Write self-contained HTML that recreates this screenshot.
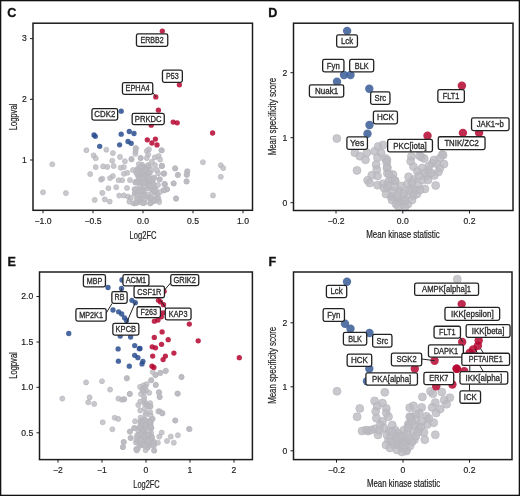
<!DOCTYPE html>
<html><head><meta charset="utf-8"><style>
html,body{margin:0;padding:0;background:#fff;}
svg{display:block;will-change:transform;font-family:"Liberation Sans", sans-serif;}
</style></head><body>
<svg width="520" height="496" viewBox="0 0 520 496">
<rect x="0" y="0" width="520" height="496" fill="#fff"/>
<rect x="0.65" y="0.65" width="518.7" height="494.7" fill="none" stroke="#111" stroke-width="1.3"/>
<text x="7.30" y="17.00" font-size="12.6" text-anchor="start" font-weight="bold" fill="#111" stroke="#111" stroke-width="0.3">C</text>
<circle cx="52.30" cy="164.30" r="2.55" fill="#bcbac1" fill-opacity="0.8" stroke="#b6b4bb" stroke-width="0.6"/>
<circle cx="43.00" cy="192.30" r="2.55" fill="#bcbac1" fill-opacity="0.8" stroke="#b6b4bb" stroke-width="0.6"/>
<circle cx="65.90" cy="193.10" r="2.55" fill="#bcbac1" fill-opacity="0.8" stroke="#b6b4bb" stroke-width="0.6"/>
<circle cx="86.40" cy="150.20" r="2.55" fill="#bcbac1" fill-opacity="0.8" stroke="#b6b4bb" stroke-width="0.6"/>
<circle cx="106.30" cy="149.70" r="2.55" fill="#bcbac1" fill-opacity="0.8" stroke="#b6b4bb" stroke-width="0.6"/>
<circle cx="112.90" cy="153.10" r="2.55" fill="#bcbac1" fill-opacity="0.8" stroke="#b6b4bb" stroke-width="0.6"/>
<circle cx="93.60" cy="155.40" r="2.55" fill="#bcbac1" fill-opacity="0.8" stroke="#b6b4bb" stroke-width="0.6"/>
<circle cx="95.70" cy="158.20" r="2.55" fill="#bcbac1" fill-opacity="0.8" stroke="#b6b4bb" stroke-width="0.6"/>
<circle cx="120.00" cy="156.90" r="2.55" fill="#bcbac1" fill-opacity="0.8" stroke="#b6b4bb" stroke-width="0.6"/>
<circle cx="136.10" cy="148.50" r="2.55" fill="#bcbac1" fill-opacity="0.8" stroke="#b6b4bb" stroke-width="0.6"/>
<circle cx="135.50" cy="151.60" r="2.55" fill="#bcbac1" fill-opacity="0.8" stroke="#b6b4bb" stroke-width="0.6"/>
<circle cx="140.80" cy="158.00" r="2.55" fill="#bcbac1" fill-opacity="0.8" stroke="#b6b4bb" stroke-width="0.6"/>
<circle cx="124.90" cy="161.20" r="2.55" fill="#bcbac1" fill-opacity="0.8" stroke="#b6b4bb" stroke-width="0.6"/>
<circle cx="131.50" cy="159.50" r="2.55" fill="#bcbac1" fill-opacity="0.8" stroke="#b6b4bb" stroke-width="0.6"/>
<circle cx="112.20" cy="160.70" r="2.55" fill="#bcbac1" fill-opacity="0.8" stroke="#b6b4bb" stroke-width="0.6"/>
<circle cx="95.70" cy="167.10" r="2.55" fill="#bcbac1" fill-opacity="0.8" stroke="#b6b4bb" stroke-width="0.6"/>
<circle cx="103.10" cy="166.40" r="2.55" fill="#bcbac1" fill-opacity="0.8" stroke="#b6b4bb" stroke-width="0.6"/>
<circle cx="107.30" cy="166.90" r="2.55" fill="#bcbac1" fill-opacity="0.8" stroke="#b6b4bb" stroke-width="0.6"/>
<circle cx="113.70" cy="166.00" r="2.55" fill="#bcbac1" fill-opacity="0.8" stroke="#b6b4bb" stroke-width="0.6"/>
<circle cx="120.70" cy="167.70" r="2.55" fill="#bcbac1" fill-opacity="0.8" stroke="#b6b4bb" stroke-width="0.6"/>
<circle cx="123.90" cy="167.10" r="2.55" fill="#bcbac1" fill-opacity="0.8" stroke="#b6b4bb" stroke-width="0.6"/>
<circle cx="90.20" cy="174.10" r="2.55" fill="#bcbac1" fill-opacity="0.8" stroke="#b6b4bb" stroke-width="0.6"/>
<circle cx="101.00" cy="179.60" r="2.55" fill="#bcbac1" fill-opacity="0.8" stroke="#b6b4bb" stroke-width="0.6"/>
<circle cx="102.30" cy="178.70" r="2.55" fill="#bcbac1" fill-opacity="0.8" stroke="#b6b4bb" stroke-width="0.6"/>
<circle cx="110.10" cy="178.10" r="2.55" fill="#bcbac1" fill-opacity="0.8" stroke="#b6b4bb" stroke-width="0.6"/>
<circle cx="112.90" cy="176.00" r="2.55" fill="#bcbac1" fill-opacity="0.8" stroke="#b6b4bb" stroke-width="0.6"/>
<circle cx="118.60" cy="180.20" r="2.55" fill="#bcbac1" fill-opacity="0.8" stroke="#b6b4bb" stroke-width="0.6"/>
<circle cx="122.20" cy="180.20" r="2.55" fill="#bcbac1" fill-opacity="0.8" stroke="#b6b4bb" stroke-width="0.6"/>
<circle cx="123.90" cy="173.80" r="2.55" fill="#bcbac1" fill-opacity="0.8" stroke="#b6b4bb" stroke-width="0.6"/>
<circle cx="127.40" cy="172.80" r="2.55" fill="#bcbac1" fill-opacity="0.8" stroke="#b6b4bb" stroke-width="0.6"/>
<circle cx="108.40" cy="188.20" r="2.55" fill="#bcbac1" fill-opacity="0.8" stroke="#b6b4bb" stroke-width="0.6"/>
<circle cx="116.20" cy="187.20" r="2.55" fill="#bcbac1" fill-opacity="0.8" stroke="#b6b4bb" stroke-width="0.6"/>
<circle cx="102.30" cy="192.90" r="2.55" fill="#bcbac1" fill-opacity="0.8" stroke="#b6b4bb" stroke-width="0.6"/>
<circle cx="94.70" cy="199.90" r="2.55" fill="#bcbac1" fill-opacity="0.8" stroke="#b6b4bb" stroke-width="0.6"/>
<circle cx="104.80" cy="199.40" r="2.55" fill="#bcbac1" fill-opacity="0.8" stroke="#b6b4bb" stroke-width="0.6"/>
<circle cx="109.70" cy="201.60" r="2.55" fill="#bcbac1" fill-opacity="0.8" stroke="#b6b4bb" stroke-width="0.6"/>
<circle cx="119.20" cy="195.60" r="2.55" fill="#bcbac1" fill-opacity="0.8" stroke="#b6b4bb" stroke-width="0.6"/>
<circle cx="123.90" cy="195.40" r="2.55" fill="#bcbac1" fill-opacity="0.8" stroke="#b6b4bb" stroke-width="0.6"/>
<circle cx="128.10" cy="196.70" r="2.55" fill="#bcbac1" fill-opacity="0.8" stroke="#b6b4bb" stroke-width="0.6"/>
<circle cx="161.30" cy="150.20" r="2.55" fill="#bcbac1" fill-opacity="0.8" stroke="#b6b4bb" stroke-width="0.6"/>
<circle cx="140.50" cy="158.10" r="2.55" fill="#bcbac1" fill-opacity="0.8" stroke="#b6b4bb" stroke-width="0.6"/>
<circle cx="135.60" cy="148.00" r="2.55" fill="#bcbac1" fill-opacity="0.8" stroke="#b6b4bb" stroke-width="0.6"/>
<circle cx="135.40" cy="153.80" r="2.55" fill="#bcbac1" fill-opacity="0.8" stroke="#b6b4bb" stroke-width="0.6"/>
<circle cx="146.80" cy="150.90" r="2.55" fill="#bcbac1" fill-opacity="0.8" stroke="#b6b4bb" stroke-width="0.6"/>
<circle cx="149.00" cy="149.40" r="2.55" fill="#bcbac1" fill-opacity="0.8" stroke="#b6b4bb" stroke-width="0.6"/>
<circle cx="148.20" cy="154.50" r="2.55" fill="#bcbac1" fill-opacity="0.8" stroke="#b6b4bb" stroke-width="0.6"/>
<circle cx="146.80" cy="158.10" r="2.55" fill="#bcbac1" fill-opacity="0.8" stroke="#b6b4bb" stroke-width="0.6"/>
<circle cx="154.80" cy="157.40" r="2.55" fill="#bcbac1" fill-opacity="0.8" stroke="#b6b4bb" stroke-width="0.6"/>
<circle cx="158.70" cy="156.00" r="2.55" fill="#bcbac1" fill-opacity="0.8" stroke="#b6b4bb" stroke-width="0.6"/>
<circle cx="160.10" cy="159.60" r="2.55" fill="#bcbac1" fill-opacity="0.8" stroke="#b6b4bb" stroke-width="0.6"/>
<circle cx="162.00" cy="166.10" r="2.55" fill="#bcbac1" fill-opacity="0.8" stroke="#b6b4bb" stroke-width="0.6"/>
<circle cx="151.80" cy="161.80" r="2.55" fill="#bcbac1" fill-opacity="0.8" stroke="#b6b4bb" stroke-width="0.6"/>
<circle cx="131.50" cy="158.90" r="2.55" fill="#bcbac1" fill-opacity="0.8" stroke="#b6b4bb" stroke-width="0.6"/>
<circle cx="175.00" cy="168.30" r="2.55" fill="#bcbac1" fill-opacity="0.8" stroke="#b6b4bb" stroke-width="0.6"/>
<circle cx="163.90" cy="173.70" r="2.55" fill="#bcbac1" fill-opacity="0.8" stroke="#b6b4bb" stroke-width="0.6"/>
<circle cx="178.00" cy="174.80" r="2.55" fill="#bcbac1" fill-opacity="0.8" stroke="#b6b4bb" stroke-width="0.6"/>
<circle cx="187.40" cy="171.20" r="2.55" fill="#bcbac1" fill-opacity="0.8" stroke="#b6b4bb" stroke-width="0.6"/>
<circle cx="187.10" cy="174.80" r="2.55" fill="#bcbac1" fill-opacity="0.8" stroke="#b6b4bb" stroke-width="0.6"/>
<circle cx="186.70" cy="181.40" r="2.55" fill="#bcbac1" fill-opacity="0.8" stroke="#b6b4bb" stroke-width="0.6"/>
<circle cx="173.60" cy="183.50" r="2.55" fill="#bcbac1" fill-opacity="0.8" stroke="#b6b4bb" stroke-width="0.6"/>
<circle cx="164.90" cy="184.30" r="2.55" fill="#bcbac1" fill-opacity="0.8" stroke="#b6b4bb" stroke-width="0.6"/>
<circle cx="159.80" cy="179.20" r="2.55" fill="#bcbac1" fill-opacity="0.8" stroke="#b6b4bb" stroke-width="0.6"/>
<circle cx="158.10" cy="173.40" r="2.55" fill="#bcbac1" fill-opacity="0.8" stroke="#b6b4bb" stroke-width="0.6"/>
<circle cx="154.00" cy="178.00" r="2.55" fill="#bcbac1" fill-opacity="0.8" stroke="#b6b4bb" stroke-width="0.6"/>
<circle cx="149.40" cy="178.00" r="2.55" fill="#bcbac1" fill-opacity="0.8" stroke="#b6b4bb" stroke-width="0.6"/>
<circle cx="167.10" cy="189.30" r="2.55" fill="#bcbac1" fill-opacity="0.8" stroke="#b6b4bb" stroke-width="0.6"/>
<circle cx="163.50" cy="190.00" r="2.55" fill="#bcbac1" fill-opacity="0.8" stroke="#b6b4bb" stroke-width="0.6"/>
<circle cx="176.10" cy="198.80" r="2.55" fill="#bcbac1" fill-opacity="0.8" stroke="#b6b4bb" stroke-width="0.6"/>
<circle cx="157.70" cy="195.90" r="2.55" fill="#bcbac1" fill-opacity="0.8" stroke="#b6b4bb" stroke-width="0.6"/>
<circle cx="156.20" cy="200.20" r="2.55" fill="#bcbac1" fill-opacity="0.8" stroke="#b6b4bb" stroke-width="0.6"/>
<circle cx="138.00" cy="202.40" r="2.55" fill="#bcbac1" fill-opacity="0.8" stroke="#b6b4bb" stroke-width="0.6"/>
<circle cx="130.80" cy="198.00" r="2.55" fill="#bcbac1" fill-opacity="0.8" stroke="#b6b4bb" stroke-width="0.6"/>
<circle cx="129.40" cy="201.70" r="2.55" fill="#bcbac1" fill-opacity="0.8" stroke="#b6b4bb" stroke-width="0.6"/>
<circle cx="202.90" cy="162.20" r="2.55" fill="#bcbac1" fill-opacity="0.8" stroke="#b6b4bb" stroke-width="0.6"/>
<circle cx="220.80" cy="165.20" r="2.55" fill="#bcbac1" fill-opacity="0.8" stroke="#b6b4bb" stroke-width="0.6"/>
<circle cx="223.20" cy="168.10" r="2.55" fill="#bcbac1" fill-opacity="0.8" stroke="#b6b4bb" stroke-width="0.6"/>
<circle cx="220.80" cy="176.80" r="2.55" fill="#bcbac1" fill-opacity="0.8" stroke="#b6b4bb" stroke-width="0.6"/>
<circle cx="213.00" cy="195.40" r="2.55" fill="#bcbac1" fill-opacity="0.8" stroke="#b6b4bb" stroke-width="0.6"/>
<circle cx="176.00" cy="198.30" r="2.55" fill="#bcbac1" fill-opacity="0.8" stroke="#b6b4bb" stroke-width="0.6"/>
<circle cx="175.30" cy="168.50" r="2.55" fill="#bcbac1" fill-opacity="0.8" stroke="#b6b4bb" stroke-width="0.6"/>
<circle cx="177.70" cy="175.10" r="2.55" fill="#bcbac1" fill-opacity="0.8" stroke="#b6b4bb" stroke-width="0.6"/>
<circle cx="187.10" cy="171.60" r="2.55" fill="#bcbac1" fill-opacity="0.8" stroke="#b6b4bb" stroke-width="0.6"/>
<circle cx="186.60" cy="174.70" r="2.55" fill="#bcbac1" fill-opacity="0.8" stroke="#b6b4bb" stroke-width="0.6"/>
<circle cx="186.40" cy="181.50" r="2.55" fill="#bcbac1" fill-opacity="0.8" stroke="#b6b4bb" stroke-width="0.6"/>
<circle cx="173.70" cy="183.40" r="2.55" fill="#bcbac1" fill-opacity="0.8" stroke="#b6b4bb" stroke-width="0.6"/>
<circle cx="161.90" cy="150.40" r="2.55" fill="#bcbac1" fill-opacity="0.8" stroke="#b6b4bb" stroke-width="0.6"/>
<circle cx="161.90" cy="165.70" r="2.55" fill="#bcbac1" fill-opacity="0.8" stroke="#b6b4bb" stroke-width="0.6"/>
<circle cx="164.20" cy="173.50" r="2.55" fill="#bcbac1" fill-opacity="0.8" stroke="#b6b4bb" stroke-width="0.6"/>
<circle cx="164.70" cy="184.10" r="2.55" fill="#bcbac1" fill-opacity="0.8" stroke="#b6b4bb" stroke-width="0.6"/>
<circle cx="167.00" cy="189.30" r="2.55" fill="#bcbac1" fill-opacity="0.8" stroke="#b6b4bb" stroke-width="0.6"/>
<circle cx="164.20" cy="190.50" r="2.55" fill="#bcbac1" fill-opacity="0.8" stroke="#b6b4bb" stroke-width="0.6"/>
<circle cx="137.70" cy="181.17" r="2.55" fill="#bcbac1" fill-opacity="0.8" stroke="#b6b4bb" stroke-width="0.6"/>
<circle cx="135.09" cy="192.99" r="2.55" fill="#bcbac1" fill-opacity="0.8" stroke="#b6b4bb" stroke-width="0.6"/>
<circle cx="141.92" cy="189.05" r="2.55" fill="#bcbac1" fill-opacity="0.8" stroke="#b6b4bb" stroke-width="0.6"/>
<circle cx="143.46" cy="168.73" r="2.55" fill="#bcbac1" fill-opacity="0.8" stroke="#b6b4bb" stroke-width="0.6"/>
<circle cx="142.37" cy="167.41" r="2.55" fill="#bcbac1" fill-opacity="0.8" stroke="#b6b4bb" stroke-width="0.6"/>
<circle cx="137.61" cy="169.44" r="2.55" fill="#bcbac1" fill-opacity="0.8" stroke="#b6b4bb" stroke-width="0.6"/>
<circle cx="151.25" cy="185.04" r="2.55" fill="#bcbac1" fill-opacity="0.8" stroke="#b6b4bb" stroke-width="0.6"/>
<circle cx="139.38" cy="172.35" r="2.55" fill="#bcbac1" fill-opacity="0.8" stroke="#b6b4bb" stroke-width="0.6"/>
<circle cx="155.54" cy="192.20" r="2.55" fill="#bcbac1" fill-opacity="0.8" stroke="#b6b4bb" stroke-width="0.6"/>
<circle cx="142.65" cy="190.48" r="2.55" fill="#bcbac1" fill-opacity="0.8" stroke="#b6b4bb" stroke-width="0.6"/>
<circle cx="133.38" cy="203.29" r="2.55" fill="#bcbac1" fill-opacity="0.8" stroke="#b6b4bb" stroke-width="0.6"/>
<circle cx="140.15" cy="199.67" r="2.55" fill="#bcbac1" fill-opacity="0.8" stroke="#b6b4bb" stroke-width="0.6"/>
<circle cx="137.68" cy="173.36" r="2.55" fill="#bcbac1" fill-opacity="0.8" stroke="#b6b4bb" stroke-width="0.6"/>
<circle cx="150.13" cy="180.56" r="2.55" fill="#bcbac1" fill-opacity="0.8" stroke="#b6b4bb" stroke-width="0.6"/>
<circle cx="145.17" cy="175.09" r="2.55" fill="#bcbac1" fill-opacity="0.8" stroke="#b6b4bb" stroke-width="0.6"/>
<circle cx="142.15" cy="192.59" r="2.55" fill="#bcbac1" fill-opacity="0.8" stroke="#b6b4bb" stroke-width="0.6"/>
<circle cx="135.21" cy="189.47" r="2.55" fill="#bcbac1" fill-opacity="0.8" stroke="#b6b4bb" stroke-width="0.6"/>
<circle cx="139.27" cy="168.83" r="2.55" fill="#bcbac1" fill-opacity="0.8" stroke="#b6b4bb" stroke-width="0.6"/>
<circle cx="143.51" cy="193.97" r="2.55" fill="#bcbac1" fill-opacity="0.8" stroke="#b6b4bb" stroke-width="0.6"/>
<circle cx="145.86" cy="180.78" r="2.55" fill="#bcbac1" fill-opacity="0.8" stroke="#b6b4bb" stroke-width="0.6"/>
<circle cx="140.48" cy="186.09" r="2.55" fill="#bcbac1" fill-opacity="0.8" stroke="#b6b4bb" stroke-width="0.6"/>
<circle cx="150.59" cy="197.66" r="2.55" fill="#bcbac1" fill-opacity="0.8" stroke="#b6b4bb" stroke-width="0.6"/>
<circle cx="145.35" cy="177.89" r="2.55" fill="#bcbac1" fill-opacity="0.8" stroke="#b6b4bb" stroke-width="0.6"/>
<circle cx="153.06" cy="188.68" r="2.55" fill="#bcbac1" fill-opacity="0.8" stroke="#b6b4bb" stroke-width="0.6"/>
<circle cx="140.15" cy="195.57" r="2.55" fill="#bcbac1" fill-opacity="0.8" stroke="#b6b4bb" stroke-width="0.6"/>
<circle cx="135.35" cy="203.40" r="2.55" fill="#bcbac1" fill-opacity="0.8" stroke="#b6b4bb" stroke-width="0.6"/>
<circle cx="149.78" cy="184.80" r="2.55" fill="#bcbac1" fill-opacity="0.8" stroke="#b6b4bb" stroke-width="0.6"/>
<circle cx="143.55" cy="173.74" r="2.55" fill="#bcbac1" fill-opacity="0.8" stroke="#b6b4bb" stroke-width="0.6"/>
<circle cx="145.52" cy="167.52" r="2.55" fill="#bcbac1" fill-opacity="0.8" stroke="#b6b4bb" stroke-width="0.6"/>
<circle cx="147.28" cy="196.71" r="2.55" fill="#bcbac1" fill-opacity="0.8" stroke="#b6b4bb" stroke-width="0.6"/>
<circle cx="140.78" cy="200.20" r="2.55" fill="#bcbac1" fill-opacity="0.8" stroke="#b6b4bb" stroke-width="0.6"/>
<circle cx="147.57" cy="194.46" r="2.55" fill="#bcbac1" fill-opacity="0.8" stroke="#b6b4bb" stroke-width="0.6"/>
<circle cx="144.00" cy="190.58" r="2.55" fill="#bcbac1" fill-opacity="0.8" stroke="#b6b4bb" stroke-width="0.6"/>
<circle cx="157.21" cy="199.10" r="2.55" fill="#bcbac1" fill-opacity="0.8" stroke="#b6b4bb" stroke-width="0.6"/>
<circle cx="148.18" cy="186.85" r="2.55" fill="#bcbac1" fill-opacity="0.8" stroke="#b6b4bb" stroke-width="0.6"/>
<circle cx="146.18" cy="168.89" r="2.55" fill="#bcbac1" fill-opacity="0.8" stroke="#b6b4bb" stroke-width="0.6"/>
<circle cx="156.77" cy="192.86" r="2.55" fill="#bcbac1" fill-opacity="0.8" stroke="#b6b4bb" stroke-width="0.6"/>
<circle cx="140.03" cy="198.53" r="2.55" fill="#bcbac1" fill-opacity="0.8" stroke="#b6b4bb" stroke-width="0.6"/>
<circle cx="147.81" cy="183.58" r="2.55" fill="#bcbac1" fill-opacity="0.8" stroke="#b6b4bb" stroke-width="0.6"/>
<circle cx="142.68" cy="166.33" r="2.55" fill="#bcbac1" fill-opacity="0.8" stroke="#b6b4bb" stroke-width="0.6"/>
<circle cx="137.58" cy="174.50" r="2.55" fill="#bcbac1" fill-opacity="0.8" stroke="#b6b4bb" stroke-width="0.6"/>
<circle cx="147.09" cy="168.79" r="2.55" fill="#bcbac1" fill-opacity="0.8" stroke="#b6b4bb" stroke-width="0.6"/>
<circle cx="139.75" cy="172.63" r="2.55" fill="#bcbac1" fill-opacity="0.8" stroke="#b6b4bb" stroke-width="0.6"/>
<circle cx="151.88" cy="183.78" r="2.55" fill="#bcbac1" fill-opacity="0.8" stroke="#b6b4bb" stroke-width="0.6"/>
<circle cx="142.72" cy="170.05" r="2.55" fill="#bcbac1" fill-opacity="0.8" stroke="#b6b4bb" stroke-width="0.6"/>
<circle cx="153.43" cy="189.53" r="2.55" fill="#bcbac1" fill-opacity="0.8" stroke="#b6b4bb" stroke-width="0.6"/>
<circle cx="154.97" cy="198.45" r="2.55" fill="#bcbac1" fill-opacity="0.8" stroke="#b6b4bb" stroke-width="0.6"/>
<circle cx="142.61" cy="179.33" r="2.55" fill="#bcbac1" fill-opacity="0.8" stroke="#b6b4bb" stroke-width="0.6"/>
<circle cx="151.85" cy="182.54" r="2.55" fill="#bcbac1" fill-opacity="0.8" stroke="#b6b4bb" stroke-width="0.6"/>
<circle cx="136.31" cy="202.73" r="2.55" fill="#bcbac1" fill-opacity="0.8" stroke="#b6b4bb" stroke-width="0.6"/>
<circle cx="139.43" cy="174.88" r="2.55" fill="#bcbac1" fill-opacity="0.8" stroke="#b6b4bb" stroke-width="0.6"/>
<circle cx="143.75" cy="177.43" r="2.55" fill="#bcbac1" fill-opacity="0.8" stroke="#b6b4bb" stroke-width="0.6"/>
<circle cx="139.62" cy="190.90" r="2.55" fill="#bcbac1" fill-opacity="0.8" stroke="#b6b4bb" stroke-width="0.6"/>
<circle cx="142.05" cy="164.65" r="2.55" fill="#bcbac1" fill-opacity="0.8" stroke="#b6b4bb" stroke-width="0.6"/>
<circle cx="145.72" cy="182.95" r="2.55" fill="#bcbac1" fill-opacity="0.8" stroke="#b6b4bb" stroke-width="0.6"/>
<circle cx="151.12" cy="202.58" r="2.55" fill="#bcbac1" fill-opacity="0.8" stroke="#b6b4bb" stroke-width="0.6"/>
<circle cx="147.38" cy="188.33" r="2.55" fill="#bcbac1" fill-opacity="0.8" stroke="#b6b4bb" stroke-width="0.6"/>
<circle cx="134.56" cy="193.83" r="2.55" fill="#bcbac1" fill-opacity="0.8" stroke="#b6b4bb" stroke-width="0.6"/>
<circle cx="153.27" cy="200.95" r="2.55" fill="#bcbac1" fill-opacity="0.8" stroke="#b6b4bb" stroke-width="0.6"/>
<circle cx="153.60" cy="200.17" r="2.55" fill="#bcbac1" fill-opacity="0.8" stroke="#b6b4bb" stroke-width="0.6"/>
<circle cx="142.47" cy="183.83" r="2.55" fill="#bcbac1" fill-opacity="0.8" stroke="#b6b4bb" stroke-width="0.6"/>
<circle cx="145.55" cy="171.30" r="2.55" fill="#bcbac1" fill-opacity="0.8" stroke="#b6b4bb" stroke-width="0.6"/>
<circle cx="137.32" cy="168.98" r="2.55" fill="#bcbac1" fill-opacity="0.8" stroke="#b6b4bb" stroke-width="0.6"/>
<circle cx="138.21" cy="176.35" r="2.55" fill="#bcbac1" fill-opacity="0.8" stroke="#b6b4bb" stroke-width="0.6"/>
<circle cx="135.78" cy="181.81" r="2.55" fill="#bcbac1" fill-opacity="0.8" stroke="#b6b4bb" stroke-width="0.6"/>
<circle cx="138.81" cy="164.08" r="2.55" fill="#bcbac1" fill-opacity="0.8" stroke="#b6b4bb" stroke-width="0.6"/>
<circle cx="141.51" cy="171.19" r="2.55" fill="#bcbac1" fill-opacity="0.8" stroke="#b6b4bb" stroke-width="0.6"/>
<circle cx="148.07" cy="166.55" r="2.55" fill="#bcbac1" fill-opacity="0.8" stroke="#b6b4bb" stroke-width="0.6"/>
<circle cx="136.96" cy="191.75" r="2.55" fill="#bcbac1" fill-opacity="0.8" stroke="#b6b4bb" stroke-width="0.6"/>
<circle cx="141.37" cy="178.24" r="2.55" fill="#bcbac1" fill-opacity="0.8" stroke="#b6b4bb" stroke-width="0.6"/>
<circle cx="137.05" cy="182.75" r="2.55" fill="#bcbac1" fill-opacity="0.8" stroke="#b6b4bb" stroke-width="0.6"/>
<circle cx="158.55" cy="199.38" r="2.55" fill="#bcbac1" fill-opacity="0.8" stroke="#b6b4bb" stroke-width="0.6"/>
<circle cx="144.35" cy="186.56" r="2.55" fill="#bcbac1" fill-opacity="0.8" stroke="#b6b4bb" stroke-width="0.6"/>
<circle cx="137.69" cy="170.35" r="2.55" fill="#bcbac1" fill-opacity="0.8" stroke="#b6b4bb" stroke-width="0.6"/>
<circle cx="139.83" cy="181.91" r="2.55" fill="#bcbac1" fill-opacity="0.8" stroke="#b6b4bb" stroke-width="0.6"/>
<circle cx="136.84" cy="198.75" r="2.55" fill="#bcbac1" fill-opacity="0.8" stroke="#b6b4bb" stroke-width="0.6"/>
<circle cx="149.02" cy="166.37" r="2.55" fill="#bcbac1" fill-opacity="0.8" stroke="#b6b4bb" stroke-width="0.6"/>
<circle cx="137.11" cy="188.79" r="2.55" fill="#bcbac1" fill-opacity="0.8" stroke="#b6b4bb" stroke-width="0.6"/>
<circle cx="134.43" cy="189.31" r="2.55" fill="#bcbac1" fill-opacity="0.8" stroke="#b6b4bb" stroke-width="0.6"/>
<circle cx="155.34" cy="188.78" r="2.55" fill="#bcbac1" fill-opacity="0.8" stroke="#b6b4bb" stroke-width="0.6"/>
<circle cx="150.85" cy="199.83" r="2.55" fill="#bcbac1" fill-opacity="0.8" stroke="#b6b4bb" stroke-width="0.6"/>
<circle cx="141.72" cy="178.61" r="2.55" fill="#bcbac1" fill-opacity="0.8" stroke="#b6b4bb" stroke-width="0.6"/>
<circle cx="148.18" cy="174.45" r="2.55" fill="#bcbac1" fill-opacity="0.8" stroke="#b6b4bb" stroke-width="0.6"/>
<circle cx="151.00" cy="188.94" r="2.55" fill="#bcbac1" fill-opacity="0.8" stroke="#b6b4bb" stroke-width="0.6"/>
<circle cx="139.05" cy="181.40" r="2.55" fill="#bcbac1" fill-opacity="0.8" stroke="#b6b4bb" stroke-width="0.6"/>
<circle cx="158.02" cy="198.20" r="2.55" fill="#bcbac1" fill-opacity="0.8" stroke="#b6b4bb" stroke-width="0.6"/>
<circle cx="153.68" cy="199.49" r="2.55" fill="#bcbac1" fill-opacity="0.8" stroke="#b6b4bb" stroke-width="0.6"/>
<circle cx="151.76" cy="198.42" r="2.55" fill="#bcbac1" fill-opacity="0.8" stroke="#b6b4bb" stroke-width="0.6"/>
<circle cx="144.29" cy="177.14" r="2.55" fill="#bcbac1" fill-opacity="0.8" stroke="#b6b4bb" stroke-width="0.6"/>
<circle cx="135.26" cy="182.42" r="2.55" fill="#bcbac1" fill-opacity="0.8" stroke="#b6b4bb" stroke-width="0.6"/>
<circle cx="140.32" cy="166.73" r="2.55" fill="#bcbac1" fill-opacity="0.8" stroke="#b6b4bb" stroke-width="0.6"/>
<circle cx="147.52" cy="178.53" r="2.55" fill="#bcbac1" fill-opacity="0.8" stroke="#b6b4bb" stroke-width="0.6"/>
<circle cx="144.45" cy="202.69" r="2.55" fill="#bcbac1" fill-opacity="0.8" stroke="#b6b4bb" stroke-width="0.6"/>
<circle cx="159.15" cy="202.10" r="2.55" fill="#bcbac1" fill-opacity="0.8" stroke="#b6b4bb" stroke-width="0.6"/>
<circle cx="142.18" cy="202.64" r="2.55" fill="#bcbac1" fill-opacity="0.8" stroke="#b6b4bb" stroke-width="0.6"/>
<circle cx="139.28" cy="176.87" r="2.55" fill="#bcbac1" fill-opacity="0.8" stroke="#b6b4bb" stroke-width="0.6"/>
<circle cx="138.94" cy="175.81" r="2.55" fill="#bcbac1" fill-opacity="0.8" stroke="#b6b4bb" stroke-width="0.6"/>
<circle cx="154.41" cy="192.09" r="2.55" fill="#bcbac1" fill-opacity="0.8" stroke="#b6b4bb" stroke-width="0.6"/>
<circle cx="145.10" cy="199.11" r="2.55" fill="#bcbac1" fill-opacity="0.8" stroke="#b6b4bb" stroke-width="0.6"/>
<circle cx="152.26" cy="193.06" r="2.55" fill="#bcbac1" fill-opacity="0.8" stroke="#b6b4bb" stroke-width="0.6"/>
<circle cx="145.80" cy="170.28" r="2.55" fill="#bcbac1" fill-opacity="0.8" stroke="#b6b4bb" stroke-width="0.6"/>
<circle cx="153.39" cy="201.26" r="2.55" fill="#bcbac1" fill-opacity="0.8" stroke="#b6b4bb" stroke-width="0.6"/>
<circle cx="144.87" cy="196.24" r="2.55" fill="#bcbac1" fill-opacity="0.8" stroke="#b6b4bb" stroke-width="0.6"/>
<circle cx="148.56" cy="174.99" r="2.55" fill="#bcbac1" fill-opacity="0.8" stroke="#b6b4bb" stroke-width="0.6"/>
<circle cx="150.03" cy="181.52" r="2.55" fill="#bcbac1" fill-opacity="0.8" stroke="#b6b4bb" stroke-width="0.6"/>
<circle cx="143.06" cy="203.15" r="2.55" fill="#bcbac1" fill-opacity="0.8" stroke="#b6b4bb" stroke-width="0.6"/>
<circle cx="153.48" cy="184.17" r="2.55" fill="#bcbac1" fill-opacity="0.8" stroke="#b6b4bb" stroke-width="0.6"/>
<circle cx="137.25" cy="195.42" r="2.55" fill="#bcbac1" fill-opacity="0.8" stroke="#b6b4bb" stroke-width="0.6"/>
<circle cx="138.26" cy="172.51" r="2.55" fill="#bcbac1" fill-opacity="0.8" stroke="#b6b4bb" stroke-width="0.6"/>
<circle cx="154.01" cy="201.11" r="2.55" fill="#bcbac1" fill-opacity="0.8" stroke="#b6b4bb" stroke-width="0.6"/>
<circle cx="148.86" cy="173.46" r="2.55" fill="#bcbac1" fill-opacity="0.8" stroke="#b6b4bb" stroke-width="0.6"/>
<circle cx="150.32" cy="203.41" r="2.55" fill="#bcbac1" fill-opacity="0.8" stroke="#b6b4bb" stroke-width="0.6"/>
<circle cx="145.30" cy="182.22" r="2.55" fill="#bcbac1" fill-opacity="0.8" stroke="#b6b4bb" stroke-width="0.6"/>
<circle cx="136.13" cy="172.71" r="2.55" fill="#bcbac1" fill-opacity="0.8" stroke="#b6b4bb" stroke-width="0.6"/>
<circle cx="150.07" cy="203.12" r="2.55" fill="#bcbac1" fill-opacity="0.8" stroke="#b6b4bb" stroke-width="0.6"/>
<circle cx="154.35" cy="188.73" r="2.55" fill="#bcbac1" fill-opacity="0.8" stroke="#b6b4bb" stroke-width="0.6"/>
<circle cx="152.24" cy="185.38" r="2.55" fill="#bcbac1" fill-opacity="0.8" stroke="#b6b4bb" stroke-width="0.6"/>
<circle cx="138.13" cy="198.66" r="2.55" fill="#bcbac1" fill-opacity="0.8" stroke="#b6b4bb" stroke-width="0.6"/>
<circle cx="140.40" cy="178.22" r="2.55" fill="#bcbac1" fill-opacity="0.8" stroke="#b6b4bb" stroke-width="0.6"/>
<circle cx="145.54" cy="177.74" r="2.55" fill="#bcbac1" fill-opacity="0.8" stroke="#b6b4bb" stroke-width="0.6"/>
<circle cx="142.65" cy="178.54" r="2.55" fill="#bcbac1" fill-opacity="0.8" stroke="#b6b4bb" stroke-width="0.6"/>
<circle cx="150.00" cy="172.71" r="2.55" fill="#bcbac1" fill-opacity="0.8" stroke="#b6b4bb" stroke-width="0.6"/>
<circle cx="143.57" cy="182.35" r="2.55" fill="#bcbac1" fill-opacity="0.8" stroke="#b6b4bb" stroke-width="0.6"/>
<circle cx="154.17" cy="190.70" r="2.55" fill="#bcbac1" fill-opacity="0.8" stroke="#b6b4bb" stroke-width="0.6"/>
<circle cx="153.07" cy="184.89" r="2.55" fill="#bcbac1" fill-opacity="0.8" stroke="#b6b4bb" stroke-width="0.6"/>
<circle cx="155.00" cy="165.00" r="2.55" fill="#bcbac1" fill-opacity="0.8" stroke="#b6b4bb" stroke-width="0.6"/>
<circle cx="152.00" cy="170.00" r="2.55" fill="#bcbac1" fill-opacity="0.8" stroke="#b6b4bb" stroke-width="0.6"/>
<circle cx="158.00" cy="185.00" r="2.55" fill="#bcbac1" fill-opacity="0.8" stroke="#b6b4bb" stroke-width="0.6"/>
<circle cx="155.00" cy="190.00" r="2.55" fill="#bcbac1" fill-opacity="0.8" stroke="#b6b4bb" stroke-width="0.6"/>
<circle cx="150.00" cy="186.00" r="2.55" fill="#bcbac1" fill-opacity="0.8" stroke="#b6b4bb" stroke-width="0.6"/>
<circle cx="160.00" cy="192.00" r="2.55" fill="#bcbac1" fill-opacity="0.8" stroke="#b6b4bb" stroke-width="0.6"/>
<circle cx="148.00" cy="165.00" r="2.55" fill="#bcbac1" fill-opacity="0.8" stroke="#b6b4bb" stroke-width="0.6"/>
<circle cx="153.00" cy="180.00" r="2.55" fill="#bcbac1" fill-opacity="0.8" stroke="#b6b4bb" stroke-width="0.6"/>
<circle cx="157.00" cy="170.00" r="2.55" fill="#bcbac1" fill-opacity="0.8" stroke="#b6b4bb" stroke-width="0.6"/>
<circle cx="133.00" cy="170.00" r="2.55" fill="#bcbac1" fill-opacity="0.8" stroke="#b6b4bb" stroke-width="0.6"/>
<circle cx="130.00" cy="180.00" r="2.55" fill="#bcbac1" fill-opacity="0.8" stroke="#b6b4bb" stroke-width="0.6"/>
<circle cx="127.00" cy="188.00" r="2.55" fill="#bcbac1" fill-opacity="0.8" stroke="#b6b4bb" stroke-width="0.6"/>
<circle cx="149.00" cy="177.70" r="2.55" fill="#bcbac1" fill-opacity="0.8" stroke="#b6b4bb" stroke-width="0.6"/>
<circle cx="154.00" cy="177.70" r="2.55" fill="#bcbac1" fill-opacity="0.8" stroke="#b6b4bb" stroke-width="0.6"/>
<circle cx="161.80" cy="165.90" r="2.55" fill="#bcbac1" fill-opacity="0.8" stroke="#b6b4bb" stroke-width="0.6"/>
<circle cx="163.60" cy="173.60" r="2.55" fill="#bcbac1" fill-opacity="0.8" stroke="#b6b4bb" stroke-width="0.6"/>
<circle cx="159.50" cy="179.50" r="2.55" fill="#bcbac1" fill-opacity="0.8" stroke="#b6b4bb" stroke-width="0.6"/>
<circle cx="164.50" cy="184.00" r="2.55" fill="#bcbac1" fill-opacity="0.8" stroke="#b6b4bb" stroke-width="0.6"/>
<circle cx="121.20" cy="111.20" r="2.65" fill="#2a4d8f" fill-opacity="0.85"/>
<circle cx="94.00" cy="135.00" r="2.65" fill="#2a4d8f" fill-opacity="0.85"/>
<circle cx="95.30" cy="136.30" r="2.65" fill="#2a4d8f" fill-opacity="0.85"/>
<circle cx="121.20" cy="134.20" r="2.65" fill="#2a4d8f" fill-opacity="0.85"/>
<circle cx="129.30" cy="131.50" r="2.65" fill="#2a4d8f" fill-opacity="0.85"/>
<circle cx="134.00" cy="133.50" r="2.65" fill="#2a4d8f" fill-opacity="0.85"/>
<circle cx="99.70" cy="146.30" r="2.65" fill="#2a4d8f" fill-opacity="0.85"/>
<circle cx="119.60" cy="144.80" r="2.65" fill="#2a4d8f" fill-opacity="0.85"/>
<circle cx="128.00" cy="141.50" r="2.65" fill="#2a4d8f" fill-opacity="0.85"/>
<circle cx="131.20" cy="143.30" r="2.65" fill="#2a4d8f" fill-opacity="0.85"/>
<circle cx="162.30" cy="31.10" r="2.65" fill="#b5052f" fill-opacity="0.85"/>
<circle cx="179.40" cy="84.80" r="2.65" fill="#b5052f" fill-opacity="0.85"/>
<circle cx="155.80" cy="96.90" r="2.65" fill="#b5052f" fill-opacity="0.85"/>
<circle cx="158.40" cy="110.20" r="2.65" fill="#b5052f" fill-opacity="0.85"/>
<circle cx="151.20" cy="125.20" r="2.65" fill="#b5052f" fill-opacity="0.85"/>
<circle cx="173.20" cy="122.10" r="2.65" fill="#b5052f" fill-opacity="0.85"/>
<circle cx="177.20" cy="122.80" r="2.65" fill="#b5052f" fill-opacity="0.85"/>
<circle cx="212.60" cy="133.00" r="2.65" fill="#b5052f" fill-opacity="0.85"/>
<circle cx="147.30" cy="139.80" r="2.65" fill="#b5052f" fill-opacity="0.85"/>
<circle cx="155.40" cy="139.10" r="2.65" fill="#b5052f" fill-opacity="0.85"/>
<circle cx="151.90" cy="143.00" r="2.65" fill="#b5052f" fill-opacity="0.85"/>
<circle cx="157.00" cy="144.90" r="2.65" fill="#b5052f" fill-opacity="0.85"/>
<rect x="33.00" y="23.20" width="219.50" height="187.10" fill="none" stroke="#1c1c1c" stroke-width="1.5"/>
<line x1="30.00" y1="38.60" x2="33.00" y2="38.60" stroke="#1c1c1c" stroke-width="1"/>
<text x="26.80" y="41.45" font-size="8.6" text-anchor="end" font-weight="normal" fill="#222" stroke="#222" stroke-width="0.18">3</text>
<line x1="30.00" y1="99.30" x2="33.00" y2="99.30" stroke="#1c1c1c" stroke-width="1"/>
<text x="26.80" y="102.15" font-size="8.6" text-anchor="end" font-weight="normal" fill="#222" stroke="#222" stroke-width="0.18">2</text>
<line x1="30.00" y1="160.00" x2="33.00" y2="160.00" stroke="#1c1c1c" stroke-width="1"/>
<text x="26.80" y="162.85" font-size="8.6" text-anchor="end" font-weight="normal" fill="#222" stroke="#222" stroke-width="0.18">1</text>
<line x1="43.00" y1="210.30" x2="43.00" y2="213.30" stroke="#1c1c1c" stroke-width="1"/>
<text x="43.00" y="223.70" font-size="8.6" text-anchor="middle" font-weight="normal" fill="#222" stroke="#222" stroke-width="0.18">−1.0</text>
<line x1="93.00" y1="210.30" x2="93.00" y2="213.30" stroke="#1c1c1c" stroke-width="1"/>
<text x="93.00" y="223.70" font-size="8.6" text-anchor="middle" font-weight="normal" fill="#222" stroke="#222" stroke-width="0.18">−0.5</text>
<line x1="143.00" y1="210.30" x2="143.00" y2="213.30" stroke="#1c1c1c" stroke-width="1"/>
<text x="143.00" y="223.70" font-size="8.6" text-anchor="middle" font-weight="normal" fill="#222" stroke="#222" stroke-width="0.18">0.0</text>
<line x1="193.00" y1="210.30" x2="193.00" y2="213.30" stroke="#1c1c1c" stroke-width="1"/>
<text x="193.00" y="223.70" font-size="8.6" text-anchor="middle" font-weight="normal" fill="#222" stroke="#222" stroke-width="0.18">0.5</text>
<line x1="243.00" y1="210.30" x2="243.00" y2="213.30" stroke="#1c1c1c" stroke-width="1"/>
<text x="243.00" y="223.70" font-size="8.6" text-anchor="middle" font-weight="normal" fill="#222" stroke="#222" stroke-width="0.18">1.0</text>
<text x="143.00" y="238.50" font-size="10" text-anchor="middle" font-weight="normal" fill="#222" textLength="27.00" lengthAdjust="spacingAndGlyphs" stroke="#222" stroke-width="0.2">Log2FC</text>
<text x="16.50" y="117.00" font-size="10" text-anchor="middle" font-weight="normal" fill="#222" textLength="26.60" lengthAdjust="spacingAndGlyphs" transform="rotate(-90 16.50 117.00)" stroke="#222" stroke-width="0.2">Logpval</text>
<line x1="153.00" y1="92.70" x2="155.80" y2="96.90" stroke="#222" stroke-width="1.0"/>
<rect x="136.45" y="33.85" width="31.30" height="12.50" rx="1.8" fill="#fff" stroke="#222" stroke-width="1.3"/>
<text x="140.40" y="43.05" font-size="8.2" text-anchor="start" font-weight="normal" fill="#2a2a2a" textLength="23.40" lengthAdjust="spacingAndGlyphs" stroke="#2a2a2a" stroke-width="0.3">ERBB2</text>
<rect x="162.45" y="70.15" width="19.90" height="12.20" rx="1.8" fill="#fff" stroke="#222" stroke-width="1.3"/>
<text x="166.05" y="79.20" font-size="8.2" text-anchor="start" font-weight="normal" fill="#2a2a2a" textLength="12.69" lengthAdjust="spacingAndGlyphs" stroke="#2a2a2a" stroke-width="0.3">P53</text>
<rect x="122.45" y="82.65" width="30.30" height="11.70" rx="1.8" fill="#fff" stroke="#222" stroke-width="1.3"/>
<text x="125.52" y="91.45" font-size="8.2" text-anchor="start" font-weight="normal" fill="#2a2a2a" textLength="24.16" lengthAdjust="spacingAndGlyphs" stroke="#2a2a2a" stroke-width="0.3">EPHA4</text>
<rect x="91.95" y="108.65" width="25.70" height="11.40" rx="1.8" fill="#fff" stroke="#222" stroke-width="1.3"/>
<text x="94.35" y="117.30" font-size="8.2" text-anchor="start" font-weight="normal" fill="#2a2a2a" textLength="20.90" lengthAdjust="spacingAndGlyphs" stroke="#2a2a2a" stroke-width="0.3">CDK2</text>
<rect x="132.15" y="113.35" width="32.10" height="11.30" rx="1.8" fill="#fff" stroke="#222" stroke-width="1.3"/>
<text x="134.78" y="121.95" font-size="8.2" text-anchor="start" font-weight="normal" fill="#2a2a2a" textLength="26.84" lengthAdjust="spacingAndGlyphs" stroke="#2a2a2a" stroke-width="0.3">PRKDC</text>
<text x="268.20" y="17.00" font-size="12.6" text-anchor="start" font-weight="bold" fill="#111" stroke="#111" stroke-width="0.3">D</text>
<circle cx="336.80" cy="138.50" r="4" fill="#bcbac1" fill-opacity="0.8" stroke="#b6b4bb" stroke-width="0.6"/>
<circle cx="357.00" cy="170.40" r="4" fill="#bcbac1" fill-opacity="0.8" stroke="#b6b4bb" stroke-width="0.6"/>
<circle cx="435.70" cy="185.50" r="4" fill="#bcbac1" fill-opacity="0.8" stroke="#b6b4bb" stroke-width="0.6"/>
<circle cx="442.20" cy="154.70" r="4" fill="#bcbac1" fill-opacity="0.8" stroke="#b6b4bb" stroke-width="0.6"/>
<circle cx="354.90" cy="152.70" r="4" fill="#bcbac1" fill-opacity="0.8" stroke="#b6b4bb" stroke-width="0.6"/>
<circle cx="359.80" cy="156.20" r="4" fill="#bcbac1" fill-opacity="0.8" stroke="#b6b4bb" stroke-width="0.6"/>
<circle cx="365.50" cy="159.80" r="4" fill="#bcbac1" fill-opacity="0.8" stroke="#b6b4bb" stroke-width="0.6"/>
<circle cx="366.90" cy="152.70" r="4" fill="#bcbac1" fill-opacity="0.8" stroke="#b6b4bb" stroke-width="0.6"/>
<circle cx="374.70" cy="151.30" r="4" fill="#bcbac1" fill-opacity="0.8" stroke="#b6b4bb" stroke-width="0.6"/>
<circle cx="378.20" cy="146.40" r="4" fill="#bcbac1" fill-opacity="0.8" stroke="#b6b4bb" stroke-width="0.6"/>
<circle cx="383.10" cy="144.90" r="4" fill="#bcbac1" fill-opacity="0.8" stroke="#b6b4bb" stroke-width="0.6"/>
<circle cx="381.00" cy="152.70" r="4" fill="#bcbac1" fill-opacity="0.8" stroke="#b6b4bb" stroke-width="0.6"/>
<circle cx="377.50" cy="157.70" r="4" fill="#bcbac1" fill-opacity="0.8" stroke="#b6b4bb" stroke-width="0.6"/>
<circle cx="385.30" cy="158.40" r="4" fill="#bcbac1" fill-opacity="0.8" stroke="#b6b4bb" stroke-width="0.6"/>
<circle cx="386.70" cy="162.60" r="4" fill="#bcbac1" fill-opacity="0.8" stroke="#b6b4bb" stroke-width="0.6"/>
<circle cx="376.10" cy="164.70" r="4" fill="#bcbac1" fill-opacity="0.8" stroke="#b6b4bb" stroke-width="0.6"/>
<circle cx="376.80" cy="169.70" r="4" fill="#bcbac1" fill-opacity="0.8" stroke="#b6b4bb" stroke-width="0.6"/>
<circle cx="387.40" cy="167.50" r="4" fill="#bcbac1" fill-opacity="0.8" stroke="#b6b4bb" stroke-width="0.6"/>
<circle cx="387.40" cy="173.20" r="4" fill="#bcbac1" fill-opacity="0.8" stroke="#b6b4bb" stroke-width="0.6"/>
<circle cx="393.00" cy="174.60" r="4" fill="#bcbac1" fill-opacity="0.8" stroke="#b6b4bb" stroke-width="0.6"/>
<circle cx="371.80" cy="175.30" r="4" fill="#bcbac1" fill-opacity="0.8" stroke="#b6b4bb" stroke-width="0.6"/>
<circle cx="377.50" cy="176.00" r="4" fill="#bcbac1" fill-opacity="0.8" stroke="#b6b4bb" stroke-width="0.6"/>
<circle cx="367.60" cy="180.30" r="4" fill="#bcbac1" fill-opacity="0.8" stroke="#b6b4bb" stroke-width="0.6"/>
<circle cx="369.70" cy="183.10" r="4" fill="#bcbac1" fill-opacity="0.8" stroke="#b6b4bb" stroke-width="0.6"/>
<circle cx="377.50" cy="185.20" r="4" fill="#bcbac1" fill-opacity="0.8" stroke="#b6b4bb" stroke-width="0.6"/>
<circle cx="383.10" cy="183.80" r="4" fill="#bcbac1" fill-opacity="0.8" stroke="#b6b4bb" stroke-width="0.6"/>
<circle cx="388.80" cy="181.00" r="4" fill="#bcbac1" fill-opacity="0.8" stroke="#b6b4bb" stroke-width="0.6"/>
<circle cx="395.10" cy="181.00" r="4" fill="#bcbac1" fill-opacity="0.8" stroke="#b6b4bb" stroke-width="0.6"/>
<circle cx="387.40" cy="188.00" r="4" fill="#bcbac1" fill-opacity="0.8" stroke="#b6b4bb" stroke-width="0.6"/>
<circle cx="391.60" cy="196.50" r="4" fill="#bcbac1" fill-opacity="0.8" stroke="#b6b4bb" stroke-width="0.6"/>
<circle cx="411.40" cy="156.50" r="4" fill="#bcbac1" fill-opacity="0.8" stroke="#b6b4bb" stroke-width="0.6"/>
<circle cx="410.70" cy="161.20" r="4" fill="#bcbac1" fill-opacity="0.8" stroke="#b6b4bb" stroke-width="0.6"/>
<circle cx="421.50" cy="157.20" r="4" fill="#bcbac1" fill-opacity="0.8" stroke="#b6b4bb" stroke-width="0.6"/>
<circle cx="424.20" cy="158.50" r="4" fill="#bcbac1" fill-opacity="0.8" stroke="#b6b4bb" stroke-width="0.6"/>
<circle cx="419.50" cy="155.80" r="4" fill="#bcbac1" fill-opacity="0.8" stroke="#b6b4bb" stroke-width="0.6"/>
<circle cx="443.10" cy="155.10" r="4" fill="#bcbac1" fill-opacity="0.8" stroke="#b6b4bb" stroke-width="0.6"/>
<circle cx="439.70" cy="158.50" r="4" fill="#bcbac1" fill-opacity="0.8" stroke="#b6b4bb" stroke-width="0.6"/>
<circle cx="432.30" cy="163.20" r="4" fill="#bcbac1" fill-opacity="0.8" stroke="#b6b4bb" stroke-width="0.6"/>
<circle cx="437.00" cy="163.90" r="4" fill="#bcbac1" fill-opacity="0.8" stroke="#b6b4bb" stroke-width="0.6"/>
<circle cx="438.40" cy="172.00" r="4" fill="#bcbac1" fill-opacity="0.8" stroke="#b6b4bb" stroke-width="0.6"/>
<circle cx="434.30" cy="175.40" r="4" fill="#bcbac1" fill-opacity="0.8" stroke="#b6b4bb" stroke-width="0.6"/>
<circle cx="428.20" cy="170.00" r="4" fill="#bcbac1" fill-opacity="0.8" stroke="#b6b4bb" stroke-width="0.6"/>
<circle cx="426.90" cy="176.10" r="4" fill="#bcbac1" fill-opacity="0.8" stroke="#b6b4bb" stroke-width="0.6"/>
<circle cx="413.40" cy="166.60" r="4" fill="#bcbac1" fill-opacity="0.8" stroke="#b6b4bb" stroke-width="0.6"/>
<circle cx="417.40" cy="171.40" r="4" fill="#bcbac1" fill-opacity="0.8" stroke="#b6b4bb" stroke-width="0.6"/>
<circle cx="422.20" cy="168.00" r="4" fill="#bcbac1" fill-opacity="0.8" stroke="#b6b4bb" stroke-width="0.6"/>
<circle cx="408.60" cy="176.80" r="4" fill="#bcbac1" fill-opacity="0.8" stroke="#b6b4bb" stroke-width="0.6"/>
<circle cx="414.10" cy="179.50" r="4" fill="#bcbac1" fill-opacity="0.8" stroke="#b6b4bb" stroke-width="0.6"/>
<circle cx="422.20" cy="180.10" r="4" fill="#bcbac1" fill-opacity="0.8" stroke="#b6b4bb" stroke-width="0.6"/>
<circle cx="424.90" cy="188.90" r="4" fill="#bcbac1" fill-opacity="0.8" stroke="#b6b4bb" stroke-width="0.6"/>
<circle cx="418.10" cy="185.50" r="4" fill="#bcbac1" fill-opacity="0.8" stroke="#b6b4bb" stroke-width="0.6"/>
<circle cx="411.40" cy="188.20" r="4" fill="#bcbac1" fill-opacity="0.8" stroke="#b6b4bb" stroke-width="0.6"/>
<circle cx="407.30" cy="184.20" r="4" fill="#bcbac1" fill-opacity="0.8" stroke="#b6b4bb" stroke-width="0.6"/>
<circle cx="413.40" cy="195.70" r="4" fill="#bcbac1" fill-opacity="0.8" stroke="#b6b4bb" stroke-width="0.6"/>
<circle cx="408.00" cy="195.00" r="4" fill="#bcbac1" fill-opacity="0.8" stroke="#b6b4bb" stroke-width="0.6"/>
<circle cx="403.20" cy="199.70" r="4" fill="#bcbac1" fill-opacity="0.8" stroke="#b6b4bb" stroke-width="0.6"/>
<circle cx="397.20" cy="199.10" r="4" fill="#bcbac1" fill-opacity="0.8" stroke="#b6b4bb" stroke-width="0.6"/>
<circle cx="391.10" cy="196.40" r="4" fill="#bcbac1" fill-opacity="0.8" stroke="#b6b4bb" stroke-width="0.6"/>
<circle cx="393.10" cy="191.00" r="4" fill="#bcbac1" fill-opacity="0.8" stroke="#b6b4bb" stroke-width="0.6"/>
<circle cx="399.90" cy="191.00" r="4" fill="#bcbac1" fill-opacity="0.8" stroke="#b6b4bb" stroke-width="0.6"/>
<circle cx="387.70" cy="185.50" r="4" fill="#bcbac1" fill-opacity="0.8" stroke="#b6b4bb" stroke-width="0.6"/>
<circle cx="391.80" cy="178.80" r="4" fill="#bcbac1" fill-opacity="0.8" stroke="#b6b4bb" stroke-width="0.6"/>
<circle cx="387.00" cy="159.90" r="4" fill="#bcbac1" fill-opacity="0.8" stroke="#b6b4bb" stroke-width="0.6"/>
<circle cx="387.00" cy="168.00" r="4" fill="#bcbac1" fill-opacity="0.8" stroke="#b6b4bb" stroke-width="0.6"/>
<circle cx="389.10" cy="174.10" r="4" fill="#bcbac1" fill-opacity="0.8" stroke="#b6b4bb" stroke-width="0.6"/>
<circle cx="395.10" cy="180.80" r="4" fill="#bcbac1" fill-opacity="0.8" stroke="#b6b4bb" stroke-width="0.6"/>
<circle cx="402.60" cy="204.00" r="4" fill="#bcbac1" fill-opacity="0.8" stroke="#b6b4bb" stroke-width="0.6"/>
<circle cx="400.00" cy="202.00" r="4" fill="#bcbac1" fill-opacity="0.8" stroke="#b6b4bb" stroke-width="0.6"/>
<circle cx="405.00" cy="201.00" r="4" fill="#bcbac1" fill-opacity="0.8" stroke="#b6b4bb" stroke-width="0.6"/>
<circle cx="398.00" cy="195.00" r="4" fill="#bcbac1" fill-opacity="0.8" stroke="#b6b4bb" stroke-width="0.6"/>
<circle cx="404.00" cy="193.00" r="4" fill="#bcbac1" fill-opacity="0.8" stroke="#b6b4bb" stroke-width="0.6"/>
<circle cx="395.00" cy="187.00" r="4" fill="#bcbac1" fill-opacity="0.8" stroke="#b6b4bb" stroke-width="0.6"/>
<circle cx="401.00" cy="186.00" r="4" fill="#bcbac1" fill-opacity="0.8" stroke="#b6b4bb" stroke-width="0.6"/>
<circle cx="409.00" cy="190.00" r="4" fill="#bcbac1" fill-opacity="0.8" stroke="#b6b4bb" stroke-width="0.6"/>
<circle cx="416.00" cy="190.00" r="4" fill="#bcbac1" fill-opacity="0.8" stroke="#b6b4bb" stroke-width="0.6"/>
<circle cx="412.00" cy="182.00" r="4" fill="#bcbac1" fill-opacity="0.8" stroke="#b6b4bb" stroke-width="0.6"/>
<circle cx="419.00" cy="176.00" r="4" fill="#bcbac1" fill-opacity="0.8" stroke="#b6b4bb" stroke-width="0.6"/>
<circle cx="425.00" cy="173.00" r="4" fill="#bcbac1" fill-opacity="0.8" stroke="#b6b4bb" stroke-width="0.6"/>
<circle cx="429.00" cy="166.00" r="4" fill="#bcbac1" fill-opacity="0.8" stroke="#b6b4bb" stroke-width="0.6"/>
<circle cx="434.00" cy="160.00" r="4" fill="#bcbac1" fill-opacity="0.8" stroke="#b6b4bb" stroke-width="0.6"/>
<circle cx="440.00" cy="168.00" r="4" fill="#bcbac1" fill-opacity="0.8" stroke="#b6b4bb" stroke-width="0.6"/>
<circle cx="392.00" cy="200.00" r="4" fill="#bcbac1" fill-opacity="0.8" stroke="#b6b4bb" stroke-width="0.6"/>
<circle cx="396.00" cy="204.00" r="4" fill="#bcbac1" fill-opacity="0.8" stroke="#b6b4bb" stroke-width="0.6"/>
<circle cx="408.00" cy="204.00" r="4" fill="#bcbac1" fill-opacity="0.8" stroke="#b6b4bb" stroke-width="0.6"/>
<circle cx="412.00" cy="200.00" r="4" fill="#bcbac1" fill-opacity="0.8" stroke="#b6b4bb" stroke-width="0.6"/>
<circle cx="417.00" cy="194.00" r="4" fill="#bcbac1" fill-opacity="0.8" stroke="#b6b4bb" stroke-width="0.6"/>
<circle cx="420.00" cy="190.00" r="4" fill="#bcbac1" fill-opacity="0.8" stroke="#b6b4bb" stroke-width="0.6"/>
<circle cx="386.00" cy="194.00" r="4" fill="#bcbac1" fill-opacity="0.8" stroke="#b6b4bb" stroke-width="0.6"/>
<circle cx="384.00" cy="188.00" r="4" fill="#bcbac1" fill-opacity="0.8" stroke="#b6b4bb" stroke-width="0.6"/>
<circle cx="398.00" cy="206.00" r="4" fill="#bcbac1" fill-opacity="0.8" stroke="#b6b4bb" stroke-width="0.6"/>
<circle cx="405.00" cy="207.00" r="4" fill="#bcbac1" fill-opacity="0.8" stroke="#b6b4bb" stroke-width="0.6"/>
<circle cx="428.00" cy="180.00" r="4" fill="#bcbac1" fill-opacity="0.8" stroke="#b6b4bb" stroke-width="0.6"/>
<circle cx="431.00" cy="173.00" r="4" fill="#bcbac1" fill-opacity="0.8" stroke="#b6b4bb" stroke-width="0.6"/>
<circle cx="444.00" cy="164.00" r="4" fill="#bcbac1" fill-opacity="0.8" stroke="#b6b4bb" stroke-width="0.6"/>
<circle cx="347.10" cy="30.90" r="4.2" fill="#385a96" fill-opacity="0.85"/>
<circle cx="344.00" cy="75.00" r="4.2" fill="#385a96" fill-opacity="0.85"/>
<circle cx="350.50" cy="75.00" r="4.2" fill="#385a96" fill-opacity="0.85"/>
<circle cx="337.00" cy="81.75" r="4.2" fill="#385a96" fill-opacity="0.85"/>
<circle cx="369.30" cy="88.75" r="4.2" fill="#385a96" fill-opacity="0.85"/>
<circle cx="369.50" cy="125.00" r="4.2" fill="#385a96" fill-opacity="0.85"/>
<circle cx="367.50" cy="133.75" r="4.2" fill="#385a96" fill-opacity="0.85"/>
<circle cx="461.90" cy="85.70" r="4.2" fill="#b5052f" fill-opacity="0.85"/>
<circle cx="462.90" cy="132.90" r="4.2" fill="#b5052f" fill-opacity="0.85"/>
<circle cx="479.10" cy="132.90" r="4.2" fill="#b5052f" fill-opacity="0.85"/>
<circle cx="427.50" cy="135.80" r="4.2" fill="#b5052f" fill-opacity="0.85"/>
<rect x="293.50" y="23.20" width="219.50" height="187.30" fill="none" stroke="#1c1c1c" stroke-width="1.5"/>
<line x1="290.50" y1="72.70" x2="293.50" y2="72.70" stroke="#1c1c1c" stroke-width="1"/>
<text x="287.30" y="75.55" font-size="8.6" text-anchor="end" font-weight="normal" fill="#222" stroke="#222" stroke-width="0.18">2</text>
<line x1="290.50" y1="137.70" x2="293.50" y2="137.70" stroke="#1c1c1c" stroke-width="1"/>
<text x="287.30" y="140.55" font-size="8.6" text-anchor="end" font-weight="normal" fill="#222" stroke="#222" stroke-width="0.18">1</text>
<line x1="290.50" y1="202.70" x2="293.50" y2="202.70" stroke="#1c1c1c" stroke-width="1"/>
<text x="287.30" y="205.55" font-size="8.6" text-anchor="end" font-weight="normal" fill="#222" stroke="#222" stroke-width="0.18">0</text>
<line x1="336.00" y1="210.50" x2="336.00" y2="213.50" stroke="#1c1c1c" stroke-width="1"/>
<text x="336.00" y="223.90" font-size="8.6" text-anchor="middle" font-weight="normal" fill="#222" stroke="#222" stroke-width="0.18">−0.2</text>
<line x1="402.80" y1="210.50" x2="402.80" y2="213.50" stroke="#1c1c1c" stroke-width="1"/>
<text x="402.80" y="223.90" font-size="8.6" text-anchor="middle" font-weight="normal" fill="#222" stroke="#222" stroke-width="0.18">0.0</text>
<line x1="469.50" y1="210.50" x2="469.50" y2="213.50" stroke="#1c1c1c" stroke-width="1"/>
<text x="469.50" y="223.90" font-size="8.6" text-anchor="middle" font-weight="normal" fill="#222" stroke="#222" stroke-width="0.18">0.2</text>
<text x="403.00" y="238.20" font-size="10" text-anchor="middle" font-weight="normal" fill="#222" textLength="73.50" lengthAdjust="spacingAndGlyphs" stroke="#222" stroke-width="0.2">Mean kinase statistic</text>
<text x="276.50" y="116.60" font-size="10" text-anchor="middle" font-weight="normal" fill="#222" textLength="77.50" lengthAdjust="spacingAndGlyphs" transform="rotate(-90 276.50 116.60)" stroke="#222" stroke-width="0.18">Mean specificity score</text>
<rect x="336.65" y="34.85" width="20.80" height="12.20" rx="1.8" fill="#fff" stroke="#222" stroke-width="1.3"/>
<text x="340.97" y="43.90" font-size="8.2" text-anchor="start" font-weight="normal" fill="#2a2a2a" textLength="12.17" lengthAdjust="spacingAndGlyphs" stroke="#2a2a2a" stroke-width="0.3">Lck</text>
<rect x="322.65" y="59.35" width="21.30" height="12.45" rx="1.8" fill="#fff" stroke="#222" stroke-width="1.3"/>
<text x="326.79" y="68.53" font-size="8.2" text-anchor="start" font-weight="normal" fill="#2a2a2a" textLength="13.02" lengthAdjust="spacingAndGlyphs" stroke="#2a2a2a" stroke-width="0.3">Fyn</text>
<rect x="349.65" y="59.35" width="24.05" height="12.45" rx="1.8" fill="#fff" stroke="#222" stroke-width="1.3"/>
<text x="354.77" y="68.53" font-size="8.2" text-anchor="start" font-weight="normal" fill="#2a2a2a" textLength="13.81" lengthAdjust="spacingAndGlyphs" stroke="#2a2a2a" stroke-width="0.3">BLK</text>
<rect x="309.40" y="84.85" width="34.30" height="12.20" rx="1.8" fill="#fff" stroke="#222" stroke-width="1.3"/>
<text x="315.00" y="93.90" font-size="8.2" text-anchor="start" font-weight="normal" fill="#2a2a2a" textLength="23.11" lengthAdjust="spacingAndGlyphs" stroke="#2a2a2a" stroke-width="0.3">Nuak1</text>
<rect x="370.65" y="91.85" width="19.30" height="12.45" rx="1.8" fill="#fff" stroke="#222" stroke-width="1.3"/>
<text x="374.51" y="101.03" font-size="8.2" text-anchor="start" font-weight="normal" fill="#2a2a2a" textLength="11.59" lengthAdjust="spacingAndGlyphs" stroke="#2a2a2a" stroke-width="0.3">Src</text>
<rect x="373.40" y="111.10" width="24.05" height="12.70" rx="1.8" fill="#fff" stroke="#222" stroke-width="1.3"/>
<text x="376.96" y="120.40" font-size="8.2" text-anchor="start" font-weight="normal" fill="#2a2a2a" textLength="16.93" lengthAdjust="spacingAndGlyphs" stroke="#2a2a2a" stroke-width="0.3">HCK</text>
<rect x="346.90" y="136.85" width="20.55" height="12.45" rx="1.8" fill="#fff" stroke="#222" stroke-width="1.3"/>
<text x="350.11" y="146.03" font-size="8.2" text-anchor="start" font-weight="normal" fill="#2a2a2a" textLength="14.13" lengthAdjust="spacingAndGlyphs" stroke="#2a2a2a" stroke-width="0.3">Yes</text>
<rect x="387.65" y="139.35" width="44.80" height="12.45" rx="1.8" fill="#fff" stroke="#222" stroke-width="1.3"/>
<text x="393.28" y="148.53" font-size="8.2" text-anchor="start" font-weight="normal" fill="#2a2a2a" textLength="33.54" lengthAdjust="spacingAndGlyphs" stroke="#2a2a2a" stroke-width="0.3">PKC[iota]</text>
<rect x="437.85" y="89.65" width="26.50" height="12.70" rx="1.8" fill="#fff" stroke="#222" stroke-width="1.3"/>
<text x="442.78" y="98.95" font-size="8.2" text-anchor="start" font-weight="normal" fill="#2a2a2a" textLength="16.65" lengthAdjust="spacingAndGlyphs" stroke="#2a2a2a" stroke-width="0.3">FLT1</text>
<rect x="471.55" y="117.85" width="37.50" height="12.70" rx="1.8" fill="#fff" stroke="#222" stroke-width="1.3"/>
<text x="476.67" y="127.15" font-size="8.2" text-anchor="start" font-weight="normal" fill="#2a2a2a" textLength="27.26" lengthAdjust="spacingAndGlyphs" stroke="#2a2a2a" stroke-width="0.3">JAK1~b</text>
<rect x="438.25" y="136.75" width="46.80" height="12.90" rx="1.8" fill="#fff" stroke="#222" stroke-width="1.3"/>
<text x="444.39" y="146.15" font-size="8.2" text-anchor="start" font-weight="normal" fill="#2a2a2a" textLength="34.52" lengthAdjust="spacingAndGlyphs" stroke="#2a2a2a" stroke-width="0.3">TNIK/ZC2</text>
<text x="7.60" y="265.80" font-size="12.6" text-anchor="start" font-weight="bold" fill="#111" stroke="#111" stroke-width="0.3">E</text>
<circle cx="62.30" cy="398.60" r="2.55" fill="#bcbac1" fill-opacity="0.8" stroke="#b6b4bb" stroke-width="0.6"/>
<circle cx="86.10" cy="382.40" r="2.55" fill="#bcbac1" fill-opacity="0.8" stroke="#b6b4bb" stroke-width="0.6"/>
<circle cx="102.00" cy="381.20" r="2.55" fill="#bcbac1" fill-opacity="0.8" stroke="#b6b4bb" stroke-width="0.6"/>
<circle cx="110.10" cy="389.60" r="2.55" fill="#bcbac1" fill-opacity="0.8" stroke="#b6b4bb" stroke-width="0.6"/>
<circle cx="89.60" cy="397.40" r="2.55" fill="#bcbac1" fill-opacity="0.8" stroke="#b6b4bb" stroke-width="0.6"/>
<circle cx="88.20" cy="402.30" r="2.55" fill="#bcbac1" fill-opacity="0.8" stroke="#b6b4bb" stroke-width="0.6"/>
<circle cx="94.20" cy="403.90" r="2.55" fill="#bcbac1" fill-opacity="0.8" stroke="#b6b4bb" stroke-width="0.6"/>
<circle cx="127.00" cy="378.00" r="2.55" fill="#bcbac1" fill-opacity="0.8" stroke="#b6b4bb" stroke-width="0.6"/>
<circle cx="129.80" cy="393.90" r="2.55" fill="#bcbac1" fill-opacity="0.8" stroke="#b6b4bb" stroke-width="0.6"/>
<circle cx="118.40" cy="398.60" r="2.55" fill="#bcbac1" fill-opacity="0.8" stroke="#b6b4bb" stroke-width="0.6"/>
<circle cx="121.90" cy="399.70" r="2.55" fill="#bcbac1" fill-opacity="0.8" stroke="#b6b4bb" stroke-width="0.6"/>
<circle cx="124.20" cy="399.20" r="2.55" fill="#bcbac1" fill-opacity="0.8" stroke="#b6b4bb" stroke-width="0.6"/>
<circle cx="102.70" cy="422.30" r="2.55" fill="#bcbac1" fill-opacity="0.8" stroke="#b6b4bb" stroke-width="0.6"/>
<circle cx="114.70" cy="417.70" r="2.55" fill="#bcbac1" fill-opacity="0.8" stroke="#b6b4bb" stroke-width="0.6"/>
<circle cx="118.20" cy="418.90" r="2.55" fill="#bcbac1" fill-opacity="0.8" stroke="#b6b4bb" stroke-width="0.6"/>
<circle cx="112.40" cy="429.30" r="2.55" fill="#bcbac1" fill-opacity="0.8" stroke="#b6b4bb" stroke-width="0.6"/>
<circle cx="129.80" cy="431.60" r="2.55" fill="#bcbac1" fill-opacity="0.8" stroke="#b6b4bb" stroke-width="0.6"/>
<circle cx="134.40" cy="428.10" r="2.55" fill="#bcbac1" fill-opacity="0.8" stroke="#b6b4bb" stroke-width="0.6"/>
<circle cx="123.50" cy="442.00" r="2.55" fill="#bcbac1" fill-opacity="0.8" stroke="#b6b4bb" stroke-width="0.6"/>
<circle cx="122.80" cy="447.10" r="2.55" fill="#bcbac1" fill-opacity="0.8" stroke="#b6b4bb" stroke-width="0.6"/>
<circle cx="130.90" cy="438.00" r="2.55" fill="#bcbac1" fill-opacity="0.8" stroke="#b6b4bb" stroke-width="0.6"/>
<circle cx="135.00" cy="421.20" r="2.55" fill="#bcbac1" fill-opacity="0.8" stroke="#b6b4bb" stroke-width="0.6"/>
<circle cx="165.40" cy="371.10" r="2.55" fill="#bcbac1" fill-opacity="0.8" stroke="#b6b4bb" stroke-width="0.6"/>
<circle cx="160.30" cy="372.70" r="2.55" fill="#bcbac1" fill-opacity="0.8" stroke="#b6b4bb" stroke-width="0.6"/>
<circle cx="181.50" cy="376.90" r="2.55" fill="#bcbac1" fill-opacity="0.8" stroke="#b6b4bb" stroke-width="0.6"/>
<circle cx="155.70" cy="375.00" r="2.55" fill="#bcbac1" fill-opacity="0.8" stroke="#b6b4bb" stroke-width="0.6"/>
<circle cx="151.10" cy="380.30" r="2.55" fill="#bcbac1" fill-opacity="0.8" stroke="#b6b4bb" stroke-width="0.6"/>
<circle cx="155.70" cy="385.00" r="2.55" fill="#bcbac1" fill-opacity="0.8" stroke="#b6b4bb" stroke-width="0.6"/>
<circle cx="143.50" cy="385.40" r="2.55" fill="#bcbac1" fill-opacity="0.8" stroke="#b6b4bb" stroke-width="0.6"/>
<circle cx="159.20" cy="392.30" r="2.55" fill="#bcbac1" fill-opacity="0.8" stroke="#b6b4bb" stroke-width="0.6"/>
<circle cx="159.60" cy="397.00" r="2.55" fill="#bcbac1" fill-opacity="0.8" stroke="#b6b4bb" stroke-width="0.6"/>
<circle cx="177.40" cy="393.50" r="2.55" fill="#bcbac1" fill-opacity="0.8" stroke="#b6b4bb" stroke-width="0.6"/>
<circle cx="144.20" cy="392.30" r="2.55" fill="#bcbac1" fill-opacity="0.8" stroke="#b6b4bb" stroke-width="0.6"/>
<circle cx="159.60" cy="411.20" r="2.55" fill="#bcbac1" fill-opacity="0.8" stroke="#b6b4bb" stroke-width="0.6"/>
<circle cx="162.40" cy="413.10" r="2.55" fill="#bcbac1" fill-opacity="0.8" stroke="#b6b4bb" stroke-width="0.6"/>
<circle cx="175.10" cy="420.50" r="2.55" fill="#bcbac1" fill-opacity="0.8" stroke="#b6b4bb" stroke-width="0.6"/>
<circle cx="189.00" cy="428.80" r="2.55" fill="#bcbac1" fill-opacity="0.8" stroke="#b6b4bb" stroke-width="0.6"/>
<circle cx="150.40" cy="406.20" r="2.55" fill="#bcbac1" fill-opacity="0.8" stroke="#b6b4bb" stroke-width="0.6"/>
<circle cx="152.70" cy="418.80" r="2.55" fill="#bcbac1" fill-opacity="0.8" stroke="#b6b4bb" stroke-width="0.6"/>
<circle cx="126.70" cy="378.50" r="2.55" fill="#bcbac1" fill-opacity="0.8" stroke="#b6b4bb" stroke-width="0.6"/>
<circle cx="152.70" cy="372.10" r="2.55" fill="#bcbac1" fill-opacity="0.8" stroke="#b6b4bb" stroke-width="0.6"/>
<circle cx="155.30" cy="375.10" r="2.55" fill="#bcbac1" fill-opacity="0.8" stroke="#b6b4bb" stroke-width="0.6"/>
<circle cx="160.30" cy="373.10" r="2.55" fill="#bcbac1" fill-opacity="0.8" stroke="#b6b4bb" stroke-width="0.6"/>
<circle cx="166.00" cy="370.70" r="2.55" fill="#bcbac1" fill-opacity="0.8" stroke="#b6b4bb" stroke-width="0.6"/>
<circle cx="151.30" cy="380.20" r="2.55" fill="#bcbac1" fill-opacity="0.8" stroke="#b6b4bb" stroke-width="0.6"/>
<circle cx="155.90" cy="384.80" r="2.55" fill="#bcbac1" fill-opacity="0.8" stroke="#b6b4bb" stroke-width="0.6"/>
<circle cx="181.50" cy="377.10" r="2.55" fill="#bcbac1" fill-opacity="0.8" stroke="#b6b4bb" stroke-width="0.6"/>
<circle cx="129.70" cy="393.90" r="2.55" fill="#bcbac1" fill-opacity="0.8" stroke="#b6b4bb" stroke-width="0.6"/>
<circle cx="158.70" cy="392.30" r="2.55" fill="#bcbac1" fill-opacity="0.8" stroke="#b6b4bb" stroke-width="0.6"/>
<circle cx="159.70" cy="396.90" r="2.55" fill="#bcbac1" fill-opacity="0.8" stroke="#b6b4bb" stroke-width="0.6"/>
<circle cx="177.90" cy="393.70" r="2.55" fill="#bcbac1" fill-opacity="0.8" stroke="#b6b4bb" stroke-width="0.6"/>
<circle cx="124.00" cy="399.30" r="2.55" fill="#bcbac1" fill-opacity="0.8" stroke="#b6b4bb" stroke-width="0.6"/>
<circle cx="158.30" cy="411.40" r="2.55" fill="#bcbac1" fill-opacity="0.8" stroke="#b6b4bb" stroke-width="0.6"/>
<circle cx="162.30" cy="413.40" r="2.55" fill="#bcbac1" fill-opacity="0.8" stroke="#b6b4bb" stroke-width="0.6"/>
<circle cx="175.40" cy="420.50" r="2.55" fill="#bcbac1" fill-opacity="0.8" stroke="#b6b4bb" stroke-width="0.6"/>
<circle cx="189.60" cy="429.20" r="2.55" fill="#bcbac1" fill-opacity="0.8" stroke="#b6b4bb" stroke-width="0.6"/>
<circle cx="177.90" cy="435.20" r="2.55" fill="#bcbac1" fill-opacity="0.8" stroke="#b6b4bb" stroke-width="0.6"/>
<circle cx="170.80" cy="436.60" r="2.55" fill="#bcbac1" fill-opacity="0.8" stroke="#b6b4bb" stroke-width="0.6"/>
<circle cx="167.00" cy="441.00" r="2.55" fill="#bcbac1" fill-opacity="0.8" stroke="#b6b4bb" stroke-width="0.6"/>
<circle cx="173.80" cy="442.70" r="2.55" fill="#bcbac1" fill-opacity="0.8" stroke="#b6b4bb" stroke-width="0.6"/>
<circle cx="161.70" cy="432.60" r="2.55" fill="#bcbac1" fill-opacity="0.8" stroke="#b6b4bb" stroke-width="0.6"/>
<circle cx="159.30" cy="436.60" r="2.55" fill="#bcbac1" fill-opacity="0.8" stroke="#b6b4bb" stroke-width="0.6"/>
<circle cx="130.10" cy="431.60" r="2.55" fill="#bcbac1" fill-opacity="0.8" stroke="#b6b4bb" stroke-width="0.6"/>
<circle cx="134.10" cy="428.00" r="2.55" fill="#bcbac1" fill-opacity="0.8" stroke="#b6b4bb" stroke-width="0.6"/>
<circle cx="130.50" cy="438.00" r="2.55" fill="#bcbac1" fill-opacity="0.8" stroke="#b6b4bb" stroke-width="0.6"/>
<circle cx="124.00" cy="442.10" r="2.55" fill="#bcbac1" fill-opacity="0.8" stroke="#b6b4bb" stroke-width="0.6"/>
<circle cx="123.00" cy="447.10" r="2.55" fill="#bcbac1" fill-opacity="0.8" stroke="#b6b4bb" stroke-width="0.6"/>
<circle cx="157.90" cy="442.70" r="2.55" fill="#bcbac1" fill-opacity="0.8" stroke="#b6b4bb" stroke-width="0.6"/>
<circle cx="154.30" cy="450.70" r="2.55" fill="#bcbac1" fill-opacity="0.8" stroke="#b6b4bb" stroke-width="0.6"/>
<circle cx="144.92" cy="404.07" r="2.55" fill="#bcbac1" fill-opacity="0.8" stroke="#b6b4bb" stroke-width="0.6"/>
<circle cx="138.29" cy="404.94" r="2.55" fill="#bcbac1" fill-opacity="0.8" stroke="#b6b4bb" stroke-width="0.6"/>
<circle cx="140.24" cy="401.60" r="2.55" fill="#bcbac1" fill-opacity="0.8" stroke="#b6b4bb" stroke-width="0.6"/>
<circle cx="146.60" cy="384.16" r="2.55" fill="#bcbac1" fill-opacity="0.8" stroke="#b6b4bb" stroke-width="0.6"/>
<circle cx="143.19" cy="390.89" r="2.55" fill="#bcbac1" fill-opacity="0.8" stroke="#b6b4bb" stroke-width="0.6"/>
<circle cx="145.94" cy="413.01" r="2.55" fill="#bcbac1" fill-opacity="0.8" stroke="#b6b4bb" stroke-width="0.6"/>
<circle cx="144.21" cy="397.04" r="2.55" fill="#bcbac1" fill-opacity="0.8" stroke="#b6b4bb" stroke-width="0.6"/>
<circle cx="148.39" cy="406.22" r="2.55" fill="#bcbac1" fill-opacity="0.8" stroke="#b6b4bb" stroke-width="0.6"/>
<circle cx="144.05" cy="388.24" r="2.55" fill="#bcbac1" fill-opacity="0.8" stroke="#b6b4bb" stroke-width="0.6"/>
<circle cx="140.96" cy="393.94" r="2.55" fill="#bcbac1" fill-opacity="0.8" stroke="#b6b4bb" stroke-width="0.6"/>
<circle cx="145.42" cy="414.89" r="2.55" fill="#bcbac1" fill-opacity="0.8" stroke="#b6b4bb" stroke-width="0.6"/>
<circle cx="148.10" cy="406.47" r="2.55" fill="#bcbac1" fill-opacity="0.8" stroke="#b6b4bb" stroke-width="0.6"/>
<circle cx="144.95" cy="420.50" r="2.55" fill="#bcbac1" fill-opacity="0.8" stroke="#b6b4bb" stroke-width="0.6"/>
<circle cx="144.91" cy="408.50" r="2.55" fill="#bcbac1" fill-opacity="0.8" stroke="#b6b4bb" stroke-width="0.6"/>
<circle cx="147.05" cy="404.49" r="2.55" fill="#bcbac1" fill-opacity="0.8" stroke="#b6b4bb" stroke-width="0.6"/>
<circle cx="144.79" cy="402.09" r="2.55" fill="#bcbac1" fill-opacity="0.8" stroke="#b6b4bb" stroke-width="0.6"/>
<circle cx="150.15" cy="403.12" r="2.55" fill="#bcbac1" fill-opacity="0.8" stroke="#b6b4bb" stroke-width="0.6"/>
<circle cx="150.14" cy="411.97" r="2.55" fill="#bcbac1" fill-opacity="0.8" stroke="#b6b4bb" stroke-width="0.6"/>
<circle cx="142.49" cy="421.69" r="2.55" fill="#bcbac1" fill-opacity="0.8" stroke="#b6b4bb" stroke-width="0.6"/>
<circle cx="150.49" cy="406.38" r="2.55" fill="#bcbac1" fill-opacity="0.8" stroke="#b6b4bb" stroke-width="0.6"/>
<circle cx="140.56" cy="417.60" r="2.55" fill="#bcbac1" fill-opacity="0.8" stroke="#b6b4bb" stroke-width="0.6"/>
<circle cx="142.66" cy="388.86" r="2.55" fill="#bcbac1" fill-opacity="0.8" stroke="#b6b4bb" stroke-width="0.6"/>
<circle cx="140.07" cy="386.90" r="2.55" fill="#bcbac1" fill-opacity="0.8" stroke="#b6b4bb" stroke-width="0.6"/>
<circle cx="145.28" cy="386.92" r="2.55" fill="#bcbac1" fill-opacity="0.8" stroke="#b6b4bb" stroke-width="0.6"/>
<circle cx="150.74" cy="415.36" r="2.55" fill="#bcbac1" fill-opacity="0.8" stroke="#b6b4bb" stroke-width="0.6"/>
<circle cx="146.12" cy="390.18" r="2.55" fill="#bcbac1" fill-opacity="0.8" stroke="#b6b4bb" stroke-width="0.6"/>
<circle cx="140.23" cy="410.41" r="2.55" fill="#bcbac1" fill-opacity="0.8" stroke="#b6b4bb" stroke-width="0.6"/>
<circle cx="152.08" cy="419.31" r="2.55" fill="#bcbac1" fill-opacity="0.8" stroke="#b6b4bb" stroke-width="0.6"/>
<circle cx="149.29" cy="392.78" r="2.55" fill="#bcbac1" fill-opacity="0.8" stroke="#b6b4bb" stroke-width="0.6"/>
<circle cx="144.03" cy="399.93" r="2.55" fill="#bcbac1" fill-opacity="0.8" stroke="#b6b4bb" stroke-width="0.6"/>
<circle cx="150.62" cy="423.59" r="2.55" fill="#bcbac1" fill-opacity="0.8" stroke="#b6b4bb" stroke-width="0.6"/>
<circle cx="142.64" cy="390.46" r="2.55" fill="#bcbac1" fill-opacity="0.8" stroke="#b6b4bb" stroke-width="0.6"/>
<circle cx="142.38" cy="435.98" r="2.55" fill="#bcbac1" fill-opacity="0.8" stroke="#b6b4bb" stroke-width="0.6"/>
<circle cx="143.06" cy="426.07" r="2.55" fill="#bcbac1" fill-opacity="0.8" stroke="#b6b4bb" stroke-width="0.6"/>
<circle cx="135.81" cy="442.39" r="2.55" fill="#bcbac1" fill-opacity="0.8" stroke="#b6b4bb" stroke-width="0.6"/>
<circle cx="143.95" cy="437.18" r="2.55" fill="#bcbac1" fill-opacity="0.8" stroke="#b6b4bb" stroke-width="0.6"/>
<circle cx="143.76" cy="420.56" r="2.55" fill="#bcbac1" fill-opacity="0.8" stroke="#b6b4bb" stroke-width="0.6"/>
<circle cx="145.09" cy="439.34" r="2.55" fill="#bcbac1" fill-opacity="0.8" stroke="#b6b4bb" stroke-width="0.6"/>
<circle cx="150.66" cy="421.99" r="2.55" fill="#bcbac1" fill-opacity="0.8" stroke="#b6b4bb" stroke-width="0.6"/>
<circle cx="153.89" cy="444.44" r="2.55" fill="#bcbac1" fill-opacity="0.8" stroke="#b6b4bb" stroke-width="0.6"/>
<circle cx="142.76" cy="423.25" r="2.55" fill="#bcbac1" fill-opacity="0.8" stroke="#b6b4bb" stroke-width="0.6"/>
<circle cx="148.38" cy="421.23" r="2.55" fill="#bcbac1" fill-opacity="0.8" stroke="#b6b4bb" stroke-width="0.6"/>
<circle cx="140.32" cy="428.38" r="2.55" fill="#bcbac1" fill-opacity="0.8" stroke="#b6b4bb" stroke-width="0.6"/>
<circle cx="151.28" cy="433.09" r="2.55" fill="#bcbac1" fill-opacity="0.8" stroke="#b6b4bb" stroke-width="0.6"/>
<circle cx="139.89" cy="445.39" r="2.55" fill="#bcbac1" fill-opacity="0.8" stroke="#b6b4bb" stroke-width="0.6"/>
<circle cx="150.29" cy="424.63" r="2.55" fill="#bcbac1" fill-opacity="0.8" stroke="#b6b4bb" stroke-width="0.6"/>
<circle cx="148.31" cy="437.69" r="2.55" fill="#bcbac1" fill-opacity="0.8" stroke="#b6b4bb" stroke-width="0.6"/>
<circle cx="140.51" cy="422.77" r="2.55" fill="#bcbac1" fill-opacity="0.8" stroke="#b6b4bb" stroke-width="0.6"/>
<circle cx="143.45" cy="441.33" r="2.55" fill="#bcbac1" fill-opacity="0.8" stroke="#b6b4bb" stroke-width="0.6"/>
<circle cx="150.19" cy="422.24" r="2.55" fill="#bcbac1" fill-opacity="0.8" stroke="#b6b4bb" stroke-width="0.6"/>
<circle cx="150.18" cy="439.67" r="2.55" fill="#bcbac1" fill-opacity="0.8" stroke="#b6b4bb" stroke-width="0.6"/>
<circle cx="149.34" cy="422.60" r="2.55" fill="#bcbac1" fill-opacity="0.8" stroke="#b6b4bb" stroke-width="0.6"/>
<circle cx="149.35" cy="422.07" r="2.55" fill="#bcbac1" fill-opacity="0.8" stroke="#b6b4bb" stroke-width="0.6"/>
<circle cx="142.56" cy="434.07" r="2.55" fill="#bcbac1" fill-opacity="0.8" stroke="#b6b4bb" stroke-width="0.6"/>
<circle cx="152.05" cy="437.14" r="2.55" fill="#bcbac1" fill-opacity="0.8" stroke="#b6b4bb" stroke-width="0.6"/>
<circle cx="140.33" cy="428.30" r="2.55" fill="#bcbac1" fill-opacity="0.8" stroke="#b6b4bb" stroke-width="0.6"/>
<circle cx="140.70" cy="436.33" r="2.55" fill="#bcbac1" fill-opacity="0.8" stroke="#b6b4bb" stroke-width="0.6"/>
<circle cx="141.56" cy="423.39" r="2.55" fill="#bcbac1" fill-opacity="0.8" stroke="#b6b4bb" stroke-width="0.6"/>
<circle cx="142.29" cy="421.56" r="2.55" fill="#bcbac1" fill-opacity="0.8" stroke="#b6b4bb" stroke-width="0.6"/>
<circle cx="142.51" cy="429.67" r="2.55" fill="#bcbac1" fill-opacity="0.8" stroke="#b6b4bb" stroke-width="0.6"/>
<circle cx="140.73" cy="443.54" r="2.55" fill="#bcbac1" fill-opacity="0.8" stroke="#b6b4bb" stroke-width="0.6"/>
<circle cx="139.85" cy="435.50" r="2.55" fill="#bcbac1" fill-opacity="0.8" stroke="#b6b4bb" stroke-width="0.6"/>
<circle cx="138.33" cy="430.76" r="2.55" fill="#bcbac1" fill-opacity="0.8" stroke="#b6b4bb" stroke-width="0.6"/>
<circle cx="138.95" cy="427.76" r="2.55" fill="#bcbac1" fill-opacity="0.8" stroke="#b6b4bb" stroke-width="0.6"/>
<circle cx="145.73" cy="442.73" r="2.55" fill="#bcbac1" fill-opacity="0.8" stroke="#b6b4bb" stroke-width="0.6"/>
<circle cx="145.00" cy="425.87" r="2.55" fill="#bcbac1" fill-opacity="0.8" stroke="#b6b4bb" stroke-width="0.6"/>
<circle cx="136.21" cy="448.97" r="2.55" fill="#bcbac1" fill-opacity="0.8" stroke="#b6b4bb" stroke-width="0.6"/>
<circle cx="143.34" cy="445.39" r="2.55" fill="#bcbac1" fill-opacity="0.8" stroke="#b6b4bb" stroke-width="0.6"/>
<circle cx="150.34" cy="435.35" r="2.55" fill="#bcbac1" fill-opacity="0.8" stroke="#b6b4bb" stroke-width="0.6"/>
<circle cx="145.21" cy="432.19" r="2.55" fill="#bcbac1" fill-opacity="0.8" stroke="#b6b4bb" stroke-width="0.6"/>
<circle cx="153.62" cy="441.32" r="2.55" fill="#bcbac1" fill-opacity="0.8" stroke="#b6b4bb" stroke-width="0.6"/>
<circle cx="149.85" cy="430.62" r="2.55" fill="#bcbac1" fill-opacity="0.8" stroke="#b6b4bb" stroke-width="0.6"/>
<circle cx="147.31" cy="441.91" r="2.55" fill="#bcbac1" fill-opacity="0.8" stroke="#b6b4bb" stroke-width="0.6"/>
<circle cx="142.83" cy="432.55" r="2.55" fill="#bcbac1" fill-opacity="0.8" stroke="#b6b4bb" stroke-width="0.6"/>
<circle cx="141.50" cy="421.69" r="2.55" fill="#bcbac1" fill-opacity="0.8" stroke="#b6b4bb" stroke-width="0.6"/>
<circle cx="148.04" cy="422.19" r="2.55" fill="#bcbac1" fill-opacity="0.8" stroke="#b6b4bb" stroke-width="0.6"/>
<circle cx="140.84" cy="427.92" r="2.55" fill="#bcbac1" fill-opacity="0.8" stroke="#b6b4bb" stroke-width="0.6"/>
<circle cx="149.17" cy="422.62" r="2.55" fill="#bcbac1" fill-opacity="0.8" stroke="#b6b4bb" stroke-width="0.6"/>
<circle cx="148.12" cy="446.99" r="2.55" fill="#bcbac1" fill-opacity="0.8" stroke="#b6b4bb" stroke-width="0.6"/>
<circle cx="141.77" cy="428.74" r="2.55" fill="#bcbac1" fill-opacity="0.8" stroke="#b6b4bb" stroke-width="0.6"/>
<circle cx="144.66" cy="429.08" r="2.55" fill="#bcbac1" fill-opacity="0.8" stroke="#b6b4bb" stroke-width="0.6"/>
<circle cx="144.70" cy="424.88" r="2.55" fill="#bcbac1" fill-opacity="0.8" stroke="#b6b4bb" stroke-width="0.6"/>
<circle cx="151.31" cy="428.16" r="2.55" fill="#bcbac1" fill-opacity="0.8" stroke="#b6b4bb" stroke-width="0.6"/>
<circle cx="145.55" cy="450.15" r="2.55" fill="#bcbac1" fill-opacity="0.8" stroke="#b6b4bb" stroke-width="0.6"/>
<circle cx="151.28" cy="427.58" r="2.55" fill="#bcbac1" fill-opacity="0.8" stroke="#b6b4bb" stroke-width="0.6"/>
<circle cx="143.22" cy="429.60" r="2.55" fill="#bcbac1" fill-opacity="0.8" stroke="#b6b4bb" stroke-width="0.6"/>
<circle cx="144.31" cy="420.03" r="2.55" fill="#bcbac1" fill-opacity="0.8" stroke="#b6b4bb" stroke-width="0.6"/>
<circle cx="145.07" cy="434.71" r="2.55" fill="#bcbac1" fill-opacity="0.8" stroke="#b6b4bb" stroke-width="0.6"/>
<circle cx="145.36" cy="426.23" r="2.55" fill="#bcbac1" fill-opacity="0.8" stroke="#b6b4bb" stroke-width="0.6"/>
<circle cx="143.12" cy="420.15" r="2.55" fill="#bcbac1" fill-opacity="0.8" stroke="#b6b4bb" stroke-width="0.6"/>
<circle cx="144.30" cy="422.78" r="2.55" fill="#bcbac1" fill-opacity="0.8" stroke="#b6b4bb" stroke-width="0.6"/>
<circle cx="140.44" cy="421.29" r="2.55" fill="#bcbac1" fill-opacity="0.8" stroke="#b6b4bb" stroke-width="0.6"/>
<circle cx="141.55" cy="429.43" r="2.55" fill="#bcbac1" fill-opacity="0.8" stroke="#b6b4bb" stroke-width="0.6"/>
<circle cx="145.41" cy="438.15" r="2.55" fill="#bcbac1" fill-opacity="0.8" stroke="#b6b4bb" stroke-width="0.6"/>
<circle cx="147.74" cy="443.27" r="2.55" fill="#bcbac1" fill-opacity="0.8" stroke="#b6b4bb" stroke-width="0.6"/>
<circle cx="151.83" cy="442.20" r="2.55" fill="#bcbac1" fill-opacity="0.8" stroke="#b6b4bb" stroke-width="0.6"/>
<circle cx="142.56" cy="432.08" r="2.55" fill="#bcbac1" fill-opacity="0.8" stroke="#b6b4bb" stroke-width="0.6"/>
<circle cx="136.87" cy="450.53" r="2.55" fill="#bcbac1" fill-opacity="0.8" stroke="#b6b4bb" stroke-width="0.6"/>
<circle cx="147.45" cy="442.45" r="2.55" fill="#bcbac1" fill-opacity="0.8" stroke="#b6b4bb" stroke-width="0.6"/>
<circle cx="148.99" cy="421.36" r="2.55" fill="#bcbac1" fill-opacity="0.8" stroke="#b6b4bb" stroke-width="0.6"/>
<circle cx="147.24" cy="447.65" r="2.55" fill="#bcbac1" fill-opacity="0.8" stroke="#b6b4bb" stroke-width="0.6"/>
<circle cx="150.64" cy="442.75" r="2.55" fill="#bcbac1" fill-opacity="0.8" stroke="#b6b4bb" stroke-width="0.6"/>
<circle cx="145.64" cy="424.32" r="2.55" fill="#bcbac1" fill-opacity="0.8" stroke="#b6b4bb" stroke-width="0.6"/>
<circle cx="150.37" cy="435.64" r="2.55" fill="#bcbac1" fill-opacity="0.8" stroke="#b6b4bb" stroke-width="0.6"/>
<circle cx="151.11" cy="444.95" r="2.55" fill="#bcbac1" fill-opacity="0.8" stroke="#b6b4bb" stroke-width="0.6"/>
<circle cx="151.60" cy="438.11" r="2.55" fill="#bcbac1" fill-opacity="0.8" stroke="#b6b4bb" stroke-width="0.6"/>
<circle cx="148.33" cy="441.17" r="2.55" fill="#bcbac1" fill-opacity="0.8" stroke="#b6b4bb" stroke-width="0.6"/>
<circle cx="139.29" cy="427.13" r="2.55" fill="#bcbac1" fill-opacity="0.8" stroke="#b6b4bb" stroke-width="0.6"/>
<circle cx="143.75" cy="424.13" r="2.55" fill="#bcbac1" fill-opacity="0.8" stroke="#b6b4bb" stroke-width="0.6"/>
<circle cx="149.18" cy="423.25" r="2.55" fill="#bcbac1" fill-opacity="0.8" stroke="#b6b4bb" stroke-width="0.6"/>
<circle cx="147.08" cy="437.31" r="2.55" fill="#bcbac1" fill-opacity="0.8" stroke="#b6b4bb" stroke-width="0.6"/>
<circle cx="148.04" cy="439.41" r="2.55" fill="#bcbac1" fill-opacity="0.8" stroke="#b6b4bb" stroke-width="0.6"/>
<circle cx="137.13" cy="435.17" r="2.55" fill="#bcbac1" fill-opacity="0.8" stroke="#b6b4bb" stroke-width="0.6"/>
<circle cx="149.56" cy="444.73" r="2.55" fill="#bcbac1" fill-opacity="0.8" stroke="#b6b4bb" stroke-width="0.6"/>
<circle cx="145.56" cy="435.59" r="2.55" fill="#bcbac1" fill-opacity="0.8" stroke="#b6b4bb" stroke-width="0.6"/>
<circle cx="137.07" cy="440.44" r="2.55" fill="#bcbac1" fill-opacity="0.8" stroke="#b6b4bb" stroke-width="0.6"/>
<circle cx="140.09" cy="442.84" r="2.55" fill="#bcbac1" fill-opacity="0.8" stroke="#b6b4bb" stroke-width="0.6"/>
<circle cx="142.87" cy="422.31" r="2.55" fill="#bcbac1" fill-opacity="0.8" stroke="#b6b4bb" stroke-width="0.6"/>
<circle cx="139.24" cy="442.61" r="2.55" fill="#bcbac1" fill-opacity="0.8" stroke="#b6b4bb" stroke-width="0.6"/>
<circle cx="153.74" cy="442.93" r="2.55" fill="#bcbac1" fill-opacity="0.8" stroke="#b6b4bb" stroke-width="0.6"/>
<circle cx="143.14" cy="435.31" r="2.55" fill="#bcbac1" fill-opacity="0.8" stroke="#b6b4bb" stroke-width="0.6"/>
<circle cx="147.91" cy="434.85" r="2.55" fill="#bcbac1" fill-opacity="0.8" stroke="#b6b4bb" stroke-width="0.6"/>
<circle cx="146.98" cy="443.78" r="2.55" fill="#bcbac1" fill-opacity="0.8" stroke="#b6b4bb" stroke-width="0.6"/>
<circle cx="137.37" cy="439.93" r="2.55" fill="#bcbac1" fill-opacity="0.8" stroke="#b6b4bb" stroke-width="0.6"/>
<circle cx="142.46" cy="424.57" r="2.55" fill="#bcbac1" fill-opacity="0.8" stroke="#b6b4bb" stroke-width="0.6"/>
<circle cx="141.06" cy="443.04" r="2.55" fill="#bcbac1" fill-opacity="0.8" stroke="#b6b4bb" stroke-width="0.6"/>
<circle cx="136.74" cy="437.60" r="2.55" fill="#bcbac1" fill-opacity="0.8" stroke="#b6b4bb" stroke-width="0.6"/>
<circle cx="142.96" cy="421.88" r="2.55" fill="#bcbac1" fill-opacity="0.8" stroke="#b6b4bb" stroke-width="0.6"/>
<circle cx="148.30" cy="440.83" r="2.55" fill="#bcbac1" fill-opacity="0.8" stroke="#b6b4bb" stroke-width="0.6"/>
<circle cx="141.04" cy="440.95" r="2.55" fill="#bcbac1" fill-opacity="0.8" stroke="#b6b4bb" stroke-width="0.6"/>
<circle cx="144.41" cy="436.01" r="2.55" fill="#bcbac1" fill-opacity="0.8" stroke="#b6b4bb" stroke-width="0.6"/>
<circle cx="139.08" cy="434.46" r="2.55" fill="#bcbac1" fill-opacity="0.8" stroke="#b6b4bb" stroke-width="0.6"/>
<circle cx="138.37" cy="447.70" r="2.55" fill="#bcbac1" fill-opacity="0.8" stroke="#b6b4bb" stroke-width="0.6"/>
<circle cx="154.00" cy="450.32" r="2.55" fill="#bcbac1" fill-opacity="0.8" stroke="#b6b4bb" stroke-width="0.6"/>
<circle cx="145.06" cy="420.54" r="2.55" fill="#bcbac1" fill-opacity="0.8" stroke="#b6b4bb" stroke-width="0.6"/>
<circle cx="153.97" cy="445.42" r="2.55" fill="#bcbac1" fill-opacity="0.8" stroke="#b6b4bb" stroke-width="0.6"/>
<circle cx="141.49" cy="433.93" r="2.55" fill="#bcbac1" fill-opacity="0.8" stroke="#b6b4bb" stroke-width="0.6"/>
<circle cx="150.87" cy="426.50" r="2.55" fill="#bcbac1" fill-opacity="0.8" stroke="#b6b4bb" stroke-width="0.6"/>
<circle cx="146.31" cy="426.53" r="2.55" fill="#bcbac1" fill-opacity="0.8" stroke="#b6b4bb" stroke-width="0.6"/>
<circle cx="145.64" cy="424.39" r="2.55" fill="#bcbac1" fill-opacity="0.8" stroke="#b6b4bb" stroke-width="0.6"/>
<circle cx="136.67" cy="449.53" r="2.55" fill="#bcbac1" fill-opacity="0.8" stroke="#b6b4bb" stroke-width="0.6"/>
<circle cx="144.85" cy="445.43" r="2.55" fill="#bcbac1" fill-opacity="0.8" stroke="#b6b4bb" stroke-width="0.6"/>
<circle cx="108.00" cy="287.50" r="2.65" fill="#2a4d8f" fill-opacity="0.85"/>
<circle cx="122.00" cy="280.00" r="2.65" fill="#2a4d8f" fill-opacity="0.85"/>
<circle cx="121.50" cy="288.50" r="2.65" fill="#2a4d8f" fill-opacity="0.85"/>
<circle cx="113.00" cy="310.00" r="2.65" fill="#2a4d8f" fill-opacity="0.85"/>
<circle cx="118.60" cy="311.80" r="2.65" fill="#2a4d8f" fill-opacity="0.85"/>
<circle cx="121.70" cy="314.00" r="2.65" fill="#2a4d8f" fill-opacity="0.85"/>
<circle cx="124.50" cy="317.80" r="2.65" fill="#2a4d8f" fill-opacity="0.85"/>
<circle cx="126.50" cy="320.50" r="2.65" fill="#2a4d8f" fill-opacity="0.85"/>
<circle cx="68.75" cy="333.50" r="2.65" fill="#2a4d8f" fill-opacity="0.85"/>
<circle cx="131.90" cy="300.30" r="2.65" fill="#2a4d8f" fill-opacity="0.85"/>
<circle cx="135.30" cy="302.70" r="2.65" fill="#2a4d8f" fill-opacity="0.85"/>
<circle cx="120.20" cy="336.00" r="2.65" fill="#2a4d8f" fill-opacity="0.85"/>
<circle cx="130.60" cy="337.00" r="2.65" fill="#2a4d8f" fill-opacity="0.85"/>
<circle cx="118.10" cy="348.90" r="2.65" fill="#2a4d8f" fill-opacity="0.85"/>
<circle cx="134.70" cy="345.60" r="2.65" fill="#2a4d8f" fill-opacity="0.85"/>
<circle cx="139.30" cy="348.70" r="2.65" fill="#2a4d8f" fill-opacity="0.85"/>
<circle cx="134.70" cy="355.30" r="2.65" fill="#2a4d8f" fill-opacity="0.85"/>
<circle cx="137.90" cy="357.70" r="2.65" fill="#2a4d8f" fill-opacity="0.85"/>
<circle cx="118.40" cy="361.20" r="2.65" fill="#2a4d8f" fill-opacity="0.85"/>
<circle cx="142.90" cy="361.40" r="2.65" fill="#2a4d8f" fill-opacity="0.85"/>
<circle cx="129.30" cy="366.20" r="2.65" fill="#2a4d8f" fill-opacity="0.85"/>
<circle cx="142.00" cy="363.90" r="2.65" fill="#2a4d8f" fill-opacity="0.85"/>
<circle cx="140.00" cy="348.50" r="2.65" fill="#2a4d8f" fill-opacity="0.85"/>
<circle cx="158.50" cy="300.30" r="2.65" fill="#b5052f" fill-opacity="0.85"/>
<circle cx="160.50" cy="301.90" r="2.65" fill="#b5052f" fill-opacity="0.85"/>
<circle cx="163.50" cy="304.70" r="2.65" fill="#b5052f" fill-opacity="0.85"/>
<circle cx="164.10" cy="291.20" r="2.65" fill="#b5052f" fill-opacity="0.85"/>
<circle cx="163.00" cy="312.80" r="2.65" fill="#b5052f" fill-opacity="0.85"/>
<circle cx="161.30" cy="316.80" r="2.65" fill="#b5052f" fill-opacity="0.85"/>
<circle cx="154.40" cy="321.20" r="2.65" fill="#b5052f" fill-opacity="0.85"/>
<circle cx="158.00" cy="320.00" r="2.65" fill="#b5052f" fill-opacity="0.85"/>
<circle cx="189.30" cy="324.10" r="2.65" fill="#b5052f" fill-opacity="0.85"/>
<circle cx="162.10" cy="331.90" r="2.65" fill="#b5052f" fill-opacity="0.85"/>
<circle cx="154.30" cy="337.40" r="2.65" fill="#b5052f" fill-opacity="0.85"/>
<circle cx="168.20" cy="339.70" r="2.65" fill="#b5052f" fill-opacity="0.85"/>
<circle cx="198.20" cy="340.80" r="2.65" fill="#b5052f" fill-opacity="0.85"/>
<circle cx="152.20" cy="346.80" r="2.65" fill="#b5052f" fill-opacity="0.85"/>
<circle cx="155.50" cy="347.80" r="2.65" fill="#b5052f" fill-opacity="0.85"/>
<circle cx="161.50" cy="344.30" r="2.65" fill="#b5052f" fill-opacity="0.85"/>
<circle cx="173.90" cy="353.10" r="2.65" fill="#b5052f" fill-opacity="0.85"/>
<circle cx="152.70" cy="356.10" r="2.65" fill="#b5052f" fill-opacity="0.85"/>
<circle cx="165.40" cy="356.10" r="2.65" fill="#b5052f" fill-opacity="0.85"/>
<circle cx="163.10" cy="359.60" r="2.65" fill="#b5052f" fill-opacity="0.85"/>
<circle cx="152.00" cy="366.20" r="2.65" fill="#b5052f" fill-opacity="0.85"/>
<circle cx="153.90" cy="367.40" r="2.65" fill="#b5052f" fill-opacity="0.85"/>
<circle cx="239.30" cy="357.70" r="2.65" fill="#b5052f" fill-opacity="0.85"/>
<rect x="39.50" y="272.00" width="212.90" height="187.60" fill="none" stroke="#1c1c1c" stroke-width="1.5"/>
<line x1="36.50" y1="296.50" x2="39.50" y2="296.50" stroke="#1c1c1c" stroke-width="1"/>
<text x="33.30" y="299.35" font-size="8.6" text-anchor="end" font-weight="normal" fill="#222" stroke="#222" stroke-width="0.18">2.0</text>
<line x1="36.50" y1="342.00" x2="39.50" y2="342.00" stroke="#1c1c1c" stroke-width="1"/>
<text x="33.30" y="344.85" font-size="8.6" text-anchor="end" font-weight="normal" fill="#222" stroke="#222" stroke-width="0.18">1.5</text>
<line x1="36.50" y1="387.30" x2="39.50" y2="387.30" stroke="#1c1c1c" stroke-width="1"/>
<text x="33.30" y="390.15" font-size="8.6" text-anchor="end" font-weight="normal" fill="#222" stroke="#222" stroke-width="0.18">1.0</text>
<line x1="36.50" y1="432.80" x2="39.50" y2="432.80" stroke="#1c1c1c" stroke-width="1"/>
<text x="33.30" y="435.65" font-size="8.6" text-anchor="end" font-weight="normal" fill="#222" stroke="#222" stroke-width="0.18">0.5</text>
<line x1="58.00" y1="459.60" x2="58.00" y2="462.60" stroke="#1c1c1c" stroke-width="1"/>
<text x="58.00" y="473.00" font-size="8.6" text-anchor="middle" font-weight="normal" fill="#222" stroke="#222" stroke-width="0.18">−2</text>
<line x1="102.00" y1="459.60" x2="102.00" y2="462.60" stroke="#1c1c1c" stroke-width="1"/>
<text x="102.00" y="473.00" font-size="8.6" text-anchor="middle" font-weight="normal" fill="#222" stroke="#222" stroke-width="0.18">−1</text>
<line x1="146.00" y1="459.60" x2="146.00" y2="462.60" stroke="#1c1c1c" stroke-width="1"/>
<text x="146.00" y="473.00" font-size="8.6" text-anchor="middle" font-weight="normal" fill="#222" stroke="#222" stroke-width="0.18">0</text>
<line x1="190.00" y1="459.60" x2="190.00" y2="462.60" stroke="#1c1c1c" stroke-width="1"/>
<text x="190.00" y="473.00" font-size="8.6" text-anchor="middle" font-weight="normal" fill="#222" stroke="#222" stroke-width="0.18">1</text>
<line x1="234.00" y1="459.60" x2="234.00" y2="462.60" stroke="#1c1c1c" stroke-width="1"/>
<text x="234.00" y="473.00" font-size="8.6" text-anchor="middle" font-weight="normal" fill="#222" stroke="#222" stroke-width="0.18">2</text>
<text x="146.50" y="487.50" font-size="10" text-anchor="middle" font-weight="normal" fill="#222" textLength="26.50" lengthAdjust="spacingAndGlyphs" stroke="#222" stroke-width="0.2">Log2FC</text>
<text x="16.50" y="365.50" font-size="10" text-anchor="middle" font-weight="normal" fill="#222" textLength="26.60" lengthAdjust="spacingAndGlyphs" transform="rotate(-90 16.50 365.50)" stroke="#222" stroke-width="0.2">Logpval</text>
<line x1="170.60" y1="283.00" x2="164.50" y2="290.00" stroke="#222" stroke-width="1.0"/>
<line x1="120.80" y1="291.80" x2="121.60" y2="288.50" stroke="#222" stroke-width="1.0"/>
<line x1="106.25" y1="313.00" x2="112.00" y2="303.50" stroke="#222" stroke-width="1.0"/>
<line x1="160.80" y1="300.50" x2="165.80" y2="308.30" stroke="#222" stroke-width="1.0"/>
<line x1="126.20" y1="323.50" x2="135.30" y2="302.70" stroke="#222" stroke-width="1.0"/>
<rect x="83.40" y="274.60" width="22.05" height="12.20" rx="1.8" fill="#fff" stroke="#222" stroke-width="1.3"/>
<text x="86.70" y="283.65" font-size="8.2" text-anchor="start" font-weight="normal" fill="#2a2a2a" textLength="15.46" lengthAdjust="spacingAndGlyphs" stroke="#2a2a2a" stroke-width="0.3">MBP</text>
<rect x="122.95" y="274.55" width="26.00" height="11.30" rx="1.8" fill="#fff" stroke="#222" stroke-width="1.3"/>
<text x="125.65" y="283.15" font-size="8.2" text-anchor="start" font-weight="normal" fill="#2a2a2a" textLength="20.59" lengthAdjust="spacingAndGlyphs" stroke="#2a2a2a" stroke-width="0.3">ACM1</text>
<rect x="170.75" y="274.55" width="28.00" height="11.10" rx="1.8" fill="#fff" stroke="#222" stroke-width="1.3"/>
<text x="173.47" y="283.05" font-size="8.2" text-anchor="start" font-weight="normal" fill="#2a2a2a" textLength="22.57" lengthAdjust="spacingAndGlyphs" stroke="#2a2a2a" stroke-width="0.3">GRIK2</text>
<rect x="134.05" y="286.05" width="30.40" height="11.70" rx="1.8" fill="#fff" stroke="#222" stroke-width="1.3"/>
<text x="137.17" y="294.85" font-size="8.2" text-anchor="start" font-weight="normal" fill="#2a2a2a" textLength="24.16" lengthAdjust="spacingAndGlyphs" stroke="#2a2a2a" stroke-width="0.3">CSF1R</text>
<rect x="111.85" y="291.65" width="15.30" height="11.70" rx="1.8" fill="#fff" stroke="#222" stroke-width="1.3"/>
<text x="114.54" y="300.45" font-size="8.2" text-anchor="start" font-weight="normal" fill="#2a2a2a" textLength="9.91" lengthAdjust="spacingAndGlyphs" stroke="#2a2a2a" stroke-width="0.3">RB</text>
<rect x="75.90" y="308.60" width="30.30" height="12.45" rx="1.8" fill="#fff" stroke="#222" stroke-width="1.3"/>
<text x="79.19" y="317.78" font-size="8.2" text-anchor="start" font-weight="normal" fill="#2a2a2a" textLength="23.72" lengthAdjust="spacingAndGlyphs" stroke="#2a2a2a" stroke-width="0.3">MP2K1</text>
<rect x="137.05" y="306.75" width="23.40" height="10.90" rx="1.8" fill="#fff" stroke="#222" stroke-width="1.3"/>
<text x="140.62" y="315.15" font-size="8.2" text-anchor="start" font-weight="normal" fill="#2a2a2a" textLength="16.26" lengthAdjust="spacingAndGlyphs" stroke="#2a2a2a" stroke-width="0.3">F263</text>
<rect x="165.25" y="308.15" width="25.80" height="11.70" rx="1.8" fill="#fff" stroke="#222" stroke-width="1.3"/>
<text x="168.86" y="316.95" font-size="8.2" text-anchor="start" font-weight="normal" fill="#2a2a2a" textLength="18.57" lengthAdjust="spacingAndGlyphs" stroke="#2a2a2a" stroke-width="0.3">KAP3</text>
<rect x="112.85" y="323.35" width="26.00" height="11.70" rx="1.8" fill="#fff" stroke="#222" stroke-width="1.3"/>
<text x="115.59" y="332.15" font-size="8.2" text-anchor="start" font-weight="normal" fill="#2a2a2a" textLength="20.53" lengthAdjust="spacingAndGlyphs" stroke="#2a2a2a" stroke-width="0.3">KPCB</text>
<text x="268.60" y="265.80" font-size="12.6" text-anchor="start" font-weight="bold" fill="#111" stroke="#111" stroke-width="0.3">F</text>
<circle cx="457.30" cy="279.20" r="4" fill="#bcbac1" fill-opacity="0.8" stroke="#b6b4bb" stroke-width="0.6"/>
<circle cx="337.00" cy="391.25" r="4" fill="#bcbac1" fill-opacity="0.8" stroke="#b6b4bb" stroke-width="0.6"/>
<circle cx="384.80" cy="392.30" r="4" fill="#bcbac1" fill-opacity="0.8" stroke="#b6b4bb" stroke-width="0.6"/>
<circle cx="359.80" cy="408.40" r="4" fill="#bcbac1" fill-opacity="0.8" stroke="#b6b4bb" stroke-width="0.6"/>
<circle cx="357.10" cy="416.70" r="4" fill="#bcbac1" fill-opacity="0.8" stroke="#b6b4bb" stroke-width="0.6"/>
<circle cx="374.60" cy="400.90" r="4" fill="#bcbac1" fill-opacity="0.8" stroke="#b6b4bb" stroke-width="0.6"/>
<circle cx="382.50" cy="403.10" r="4" fill="#bcbac1" fill-opacity="0.8" stroke="#b6b4bb" stroke-width="0.6"/>
<circle cx="377.20" cy="406.20" r="4" fill="#bcbac1" fill-opacity="0.8" stroke="#b6b4bb" stroke-width="0.6"/>
<circle cx="375.70" cy="411.40" r="4" fill="#bcbac1" fill-opacity="0.8" stroke="#b6b4bb" stroke-width="0.6"/>
<circle cx="386.30" cy="408.40" r="4" fill="#bcbac1" fill-opacity="0.8" stroke="#b6b4bb" stroke-width="0.6"/>
<circle cx="386.30" cy="413.00" r="4" fill="#bcbac1" fill-opacity="0.8" stroke="#b6b4bb" stroke-width="0.6"/>
<circle cx="388.50" cy="416.70" r="4" fill="#bcbac1" fill-opacity="0.8" stroke="#b6b4bb" stroke-width="0.6"/>
<circle cx="376.40" cy="418.20" r="4" fill="#bcbac1" fill-opacity="0.8" stroke="#b6b4bb" stroke-width="0.6"/>
<circle cx="382.50" cy="421.30" r="4" fill="#bcbac1" fill-opacity="0.8" stroke="#b6b4bb" stroke-width="0.6"/>
<circle cx="380.20" cy="425.00" r="4" fill="#bcbac1" fill-opacity="0.8" stroke="#b6b4bb" stroke-width="0.6"/>
<circle cx="392.30" cy="425.00" r="4" fill="#bcbac1" fill-opacity="0.8" stroke="#b6b4bb" stroke-width="0.6"/>
<circle cx="368.10" cy="431.10" r="4" fill="#bcbac1" fill-opacity="0.8" stroke="#b6b4bb" stroke-width="0.6"/>
<circle cx="374.90" cy="428.80" r="4" fill="#bcbac1" fill-opacity="0.8" stroke="#b6b4bb" stroke-width="0.6"/>
<circle cx="378.00" cy="434.90" r="4" fill="#bcbac1" fill-opacity="0.8" stroke="#b6b4bb" stroke-width="0.6"/>
<circle cx="379.50" cy="430.30" r="4" fill="#bcbac1" fill-opacity="0.8" stroke="#b6b4bb" stroke-width="0.6"/>
<circle cx="389.30" cy="431.10" r="4" fill="#bcbac1" fill-opacity="0.8" stroke="#b6b4bb" stroke-width="0.6"/>
<circle cx="395.30" cy="430.30" r="4" fill="#bcbac1" fill-opacity="0.8" stroke="#b6b4bb" stroke-width="0.6"/>
<circle cx="388.50" cy="440.20" r="4" fill="#bcbac1" fill-opacity="0.8" stroke="#b6b4bb" stroke-width="0.6"/>
<circle cx="398.40" cy="436.40" r="4" fill="#bcbac1" fill-opacity="0.8" stroke="#b6b4bb" stroke-width="0.6"/>
<circle cx="393.80" cy="444.70" r="4" fill="#bcbac1" fill-opacity="0.8" stroke="#b6b4bb" stroke-width="0.6"/>
<circle cx="401.40" cy="447.00" r="4" fill="#bcbac1" fill-opacity="0.8" stroke="#b6b4bb" stroke-width="0.6"/>
<circle cx="406.70" cy="450.00" r="4" fill="#bcbac1" fill-opacity="0.8" stroke="#b6b4bb" stroke-width="0.6"/>
<circle cx="406.70" cy="440.90" r="4" fill="#bcbac1" fill-opacity="0.8" stroke="#b6b4bb" stroke-width="0.6"/>
<circle cx="409.70" cy="407.70" r="4" fill="#bcbac1" fill-opacity="0.8" stroke="#b6b4bb" stroke-width="0.6"/>
<circle cx="408.20" cy="424.30" r="4" fill="#bcbac1" fill-opacity="0.8" stroke="#b6b4bb" stroke-width="0.6"/>
<circle cx="409.70" cy="416.70" r="4" fill="#bcbac1" fill-opacity="0.8" stroke="#b6b4bb" stroke-width="0.6"/>
<circle cx="387.00" cy="434.90" r="4" fill="#bcbac1" fill-opacity="0.8" stroke="#b6b4bb" stroke-width="0.6"/>
<circle cx="390.80" cy="437.90" r="4" fill="#bcbac1" fill-opacity="0.8" stroke="#b6b4bb" stroke-width="0.6"/>
<circle cx="399.90" cy="442.40" r="4" fill="#bcbac1" fill-opacity="0.8" stroke="#b6b4bb" stroke-width="0.6"/>
<circle cx="402.90" cy="443.90" r="4" fill="#bcbac1" fill-opacity="0.8" stroke="#b6b4bb" stroke-width="0.6"/>
<circle cx="430.50" cy="391.30" r="4" fill="#bcbac1" fill-opacity="0.8" stroke="#b6b4bb" stroke-width="0.6"/>
<circle cx="432.90" cy="393.70" r="4" fill="#bcbac1" fill-opacity="0.8" stroke="#b6b4bb" stroke-width="0.6"/>
<circle cx="441.80" cy="392.10" r="4" fill="#bcbac1" fill-opacity="0.8" stroke="#b6b4bb" stroke-width="0.6"/>
<circle cx="422.40" cy="396.90" r="4" fill="#bcbac1" fill-opacity="0.8" stroke="#b6b4bb" stroke-width="0.6"/>
<circle cx="449.80" cy="397.70" r="4" fill="#bcbac1" fill-opacity="0.8" stroke="#b6b4bb" stroke-width="0.6"/>
<circle cx="444.20" cy="400.20" r="4" fill="#bcbac1" fill-opacity="0.8" stroke="#b6b4bb" stroke-width="0.6"/>
<circle cx="435.30" cy="402.60" r="4" fill="#bcbac1" fill-opacity="0.8" stroke="#b6b4bb" stroke-width="0.6"/>
<circle cx="446.60" cy="404.20" r="4" fill="#bcbac1" fill-opacity="0.8" stroke="#b6b4bb" stroke-width="0.6"/>
<circle cx="413.50" cy="405.80" r="4" fill="#bcbac1" fill-opacity="0.8" stroke="#b6b4bb" stroke-width="0.6"/>
<circle cx="421.60" cy="407.40" r="4" fill="#bcbac1" fill-opacity="0.8" stroke="#b6b4bb" stroke-width="0.6"/>
<circle cx="432.10" cy="407.40" r="4" fill="#bcbac1" fill-opacity="0.8" stroke="#b6b4bb" stroke-width="0.6"/>
<circle cx="440.20" cy="409.00" r="4" fill="#bcbac1" fill-opacity="0.8" stroke="#b6b4bb" stroke-width="0.6"/>
<circle cx="419.20" cy="413.10" r="4" fill="#bcbac1" fill-opacity="0.8" stroke="#b6b4bb" stroke-width="0.6"/>
<circle cx="436.10" cy="413.10" r="4" fill="#bcbac1" fill-opacity="0.8" stroke="#b6b4bb" stroke-width="0.6"/>
<circle cx="411.10" cy="417.10" r="4" fill="#bcbac1" fill-opacity="0.8" stroke="#b6b4bb" stroke-width="0.6"/>
<circle cx="426.50" cy="416.30" r="4" fill="#bcbac1" fill-opacity="0.8" stroke="#b6b4bb" stroke-width="0.6"/>
<circle cx="428.90" cy="418.70" r="4" fill="#bcbac1" fill-opacity="0.8" stroke="#b6b4bb" stroke-width="0.6"/>
<circle cx="416.00" cy="419.50" r="4" fill="#bcbac1" fill-opacity="0.8" stroke="#b6b4bb" stroke-width="0.6"/>
<circle cx="409.50" cy="424.40" r="4" fill="#bcbac1" fill-opacity="0.8" stroke="#b6b4bb" stroke-width="0.6"/>
<circle cx="427.30" cy="424.40" r="4" fill="#bcbac1" fill-opacity="0.8" stroke="#b6b4bb" stroke-width="0.6"/>
<circle cx="433.70" cy="422.70" r="4" fill="#bcbac1" fill-opacity="0.8" stroke="#b6b4bb" stroke-width="0.6"/>
<circle cx="414.40" cy="425.20" r="4" fill="#bcbac1" fill-opacity="0.8" stroke="#b6b4bb" stroke-width="0.6"/>
<circle cx="419.20" cy="428.40" r="4" fill="#bcbac1" fill-opacity="0.8" stroke="#b6b4bb" stroke-width="0.6"/>
<circle cx="424.00" cy="432.40" r="4" fill="#bcbac1" fill-opacity="0.8" stroke="#b6b4bb" stroke-width="0.6"/>
<circle cx="435.30" cy="434.80" r="4" fill="#bcbac1" fill-opacity="0.8" stroke="#b6b4bb" stroke-width="0.6"/>
<circle cx="424.80" cy="439.70" r="4" fill="#bcbac1" fill-opacity="0.8" stroke="#b6b4bb" stroke-width="0.6"/>
<circle cx="412.70" cy="431.60" r="4" fill="#bcbac1" fill-opacity="0.8" stroke="#b6b4bb" stroke-width="0.6"/>
<circle cx="408.70" cy="438.10" r="4" fill="#bcbac1" fill-opacity="0.8" stroke="#b6b4bb" stroke-width="0.6"/>
<circle cx="404.70" cy="444.50" r="4" fill="#bcbac1" fill-opacity="0.8" stroke="#b6b4bb" stroke-width="0.6"/>
<circle cx="406.30" cy="451.00" r="4" fill="#bcbac1" fill-opacity="0.8" stroke="#b6b4bb" stroke-width="0.6"/>
<circle cx="398.20" cy="433.20" r="4" fill="#bcbac1" fill-opacity="0.8" stroke="#b6b4bb" stroke-width="0.6"/>
<circle cx="396.60" cy="444.50" r="4" fill="#bcbac1" fill-opacity="0.8" stroke="#b6b4bb" stroke-width="0.6"/>
<circle cx="414.40" cy="439.70" r="4" fill="#bcbac1" fill-opacity="0.8" stroke="#b6b4bb" stroke-width="0.6"/>
<circle cx="420.80" cy="426.80" r="4" fill="#bcbac1" fill-opacity="0.8" stroke="#b6b4bb" stroke-width="0.6"/>
<circle cx="403.00" cy="448.00" r="4" fill="#bcbac1" fill-opacity="0.8" stroke="#b6b4bb" stroke-width="0.6"/>
<circle cx="410.00" cy="446.00" r="4" fill="#bcbac1" fill-opacity="0.8" stroke="#b6b4bb" stroke-width="0.6"/>
<circle cx="412.00" cy="442.00" r="4" fill="#bcbac1" fill-opacity="0.8" stroke="#b6b4bb" stroke-width="0.6"/>
<circle cx="416.00" cy="436.00" r="4" fill="#bcbac1" fill-opacity="0.8" stroke="#b6b4bb" stroke-width="0.6"/>
<circle cx="418.00" cy="432.00" r="4" fill="#bcbac1" fill-opacity="0.8" stroke="#b6b4bb" stroke-width="0.6"/>
<circle cx="422.00" cy="421.00" r="4" fill="#bcbac1" fill-opacity="0.8" stroke="#b6b4bb" stroke-width="0.6"/>
<circle cx="404.00" cy="436.00" r="4" fill="#bcbac1" fill-opacity="0.8" stroke="#b6b4bb" stroke-width="0.6"/>
<circle cx="397.00" cy="440.00" r="4" fill="#bcbac1" fill-opacity="0.8" stroke="#b6b4bb" stroke-width="0.6"/>
<circle cx="392.00" cy="432.00" r="4" fill="#bcbac1" fill-opacity="0.8" stroke="#b6b4bb" stroke-width="0.6"/>
<circle cx="384.00" cy="428.00" r="4" fill="#bcbac1" fill-opacity="0.8" stroke="#b6b4bb" stroke-width="0.6"/>
<circle cx="371.00" cy="430.00" r="4" fill="#bcbac1" fill-opacity="0.8" stroke="#b6b4bb" stroke-width="0.6"/>
<circle cx="366.00" cy="430.00" r="4" fill="#bcbac1" fill-opacity="0.8" stroke="#b6b4bb" stroke-width="0.6"/>
<circle cx="362.00" cy="431.00" r="4" fill="#bcbac1" fill-opacity="0.8" stroke="#b6b4bb" stroke-width="0.6"/>
<circle cx="404.00" cy="430.00" r="4" fill="#bcbac1" fill-opacity="0.8" stroke="#b6b4bb" stroke-width="0.6"/>
<circle cx="408.00" cy="428.00" r="4" fill="#bcbac1" fill-opacity="0.8" stroke="#b6b4bb" stroke-width="0.6"/>
<circle cx="412.00" cy="422.00" r="4" fill="#bcbac1" fill-opacity="0.8" stroke="#b6b4bb" stroke-width="0.6"/>
<circle cx="416.00" cy="414.00" r="4" fill="#bcbac1" fill-opacity="0.8" stroke="#b6b4bb" stroke-width="0.6"/>
<circle cx="400.00" cy="436.00" r="4" fill="#bcbac1" fill-opacity="0.8" stroke="#b6b4bb" stroke-width="0.6"/>
<circle cx="396.00" cy="438.00" r="4" fill="#bcbac1" fill-opacity="0.8" stroke="#b6b4bb" stroke-width="0.6"/>
<circle cx="392.00" cy="442.00" r="4" fill="#bcbac1" fill-opacity="0.8" stroke="#b6b4bb" stroke-width="0.6"/>
<circle cx="407.00" cy="434.00" r="4" fill="#bcbac1" fill-opacity="0.8" stroke="#b6b4bb" stroke-width="0.6"/>
<circle cx="386.00" cy="445.00" r="4" fill="#bcbac1" fill-opacity="0.8" stroke="#b6b4bb" stroke-width="0.6"/>
<circle cx="390.00" cy="448.00" r="4" fill="#bcbac1" fill-opacity="0.8" stroke="#b6b4bb" stroke-width="0.6"/>
<circle cx="397.00" cy="450.00" r="4" fill="#bcbac1" fill-opacity="0.8" stroke="#b6b4bb" stroke-width="0.6"/>
<circle cx="402.00" cy="452.00" r="4" fill="#bcbac1" fill-opacity="0.8" stroke="#b6b4bb" stroke-width="0.6"/>
<circle cx="347.00" cy="281.75" r="4.2" fill="#385a96" fill-opacity="0.85"/>
<circle cx="345.00" cy="323.75" r="4.2" fill="#385a96" fill-opacity="0.85"/>
<circle cx="350.50" cy="328.75" r="4.2" fill="#385a96" fill-opacity="0.85"/>
<circle cx="369.50" cy="333.00" r="4.2" fill="#385a96" fill-opacity="0.85"/>
<circle cx="369.30" cy="368.80" r="4.2" fill="#385a96" fill-opacity="0.85"/>
<circle cx="367.00" cy="381.25" r="4.2" fill="#385a96" fill-opacity="0.85"/>
<circle cx="461.70" cy="304.10" r="4.2" fill="#b5052f" fill-opacity="0.85"/>
<circle cx="462.20" cy="342.00" r="4.2" fill="#b5052f" fill-opacity="0.85"/>
<circle cx="478.70" cy="340.50" r="4.2" fill="#b5052f" fill-opacity="0.85"/>
<circle cx="477.90" cy="345.80" r="4.2" fill="#b5052f" fill-opacity="0.85"/>
<circle cx="473.10" cy="349.40" r="4.2" fill="#b5052f" fill-opacity="0.85"/>
<circle cx="469.80" cy="352.60" r="4.2" fill="#b5052f" fill-opacity="0.85"/>
<circle cx="434.60" cy="360.70" r="4.2" fill="#b5052f" fill-opacity="0.85"/>
<circle cx="414.80" cy="368.80" r="4.2" fill="#b5052f" fill-opacity="0.85"/>
<circle cx="456.60" cy="368.70" r="4.2" fill="#b5052f" fill-opacity="0.85"/>
<circle cx="464.20" cy="371.10" r="4.2" fill="#b5052f" fill-opacity="0.85"/>
<circle cx="436.25" cy="386.25" r="4.2" fill="#b5052f" fill-opacity="0.85"/>
<circle cx="452.40" cy="384.50" r="4.2" fill="#b5052f" fill-opacity="0.85"/>
<circle cx="456.75" cy="368.75" r="4.2" fill="#b5052f" fill-opacity="0.85"/>
<rect x="293.50" y="272.00" width="218.50" height="187.60" fill="none" stroke="#1c1c1c" stroke-width="1.5"/>
<line x1="290.50" y1="322.80" x2="293.50" y2="322.80" stroke="#1c1c1c" stroke-width="1"/>
<text x="287.30" y="325.65" font-size="8.6" text-anchor="end" font-weight="normal" fill="#222" stroke="#222" stroke-width="0.18">2</text>
<line x1="290.50" y1="386.80" x2="293.50" y2="386.80" stroke="#1c1c1c" stroke-width="1"/>
<text x="287.30" y="389.65" font-size="8.6" text-anchor="end" font-weight="normal" fill="#222" stroke="#222" stroke-width="0.18">1</text>
<line x1="290.50" y1="450.80" x2="293.50" y2="450.80" stroke="#1c1c1c" stroke-width="1"/>
<text x="287.30" y="453.65" font-size="8.6" text-anchor="end" font-weight="normal" fill="#222" stroke="#222" stroke-width="0.18">0</text>
<line x1="336.50" y1="459.60" x2="336.50" y2="462.60" stroke="#1c1c1c" stroke-width="1"/>
<text x="336.50" y="473.00" font-size="8.6" text-anchor="middle" font-weight="normal" fill="#222" stroke="#222" stroke-width="0.18">−0.2</text>
<line x1="403.00" y1="459.60" x2="403.00" y2="462.60" stroke="#1c1c1c" stroke-width="1"/>
<text x="403.00" y="473.00" font-size="8.6" text-anchor="middle" font-weight="normal" fill="#222" stroke="#222" stroke-width="0.18">0</text>
<line x1="469.50" y1="459.60" x2="469.50" y2="462.60" stroke="#1c1c1c" stroke-width="1"/>
<text x="469.50" y="473.00" font-size="8.6" text-anchor="middle" font-weight="normal" fill="#222" stroke="#222" stroke-width="0.18">0.2</text>
<text x="403.50" y="487.00" font-size="10" text-anchor="middle" font-weight="normal" fill="#222" textLength="73.20" lengthAdjust="spacingAndGlyphs" stroke="#222" stroke-width="0.2">Mean kinase statistic</text>
<text x="276.50" y="365.30" font-size="10" text-anchor="middle" font-weight="normal" fill="#222" textLength="77.00" lengthAdjust="spacingAndGlyphs" transform="rotate(-90 276.50 365.30)" stroke="#222" stroke-width="0.18">Mean specificity score</text>
<line x1="421.75" y1="359.00" x2="434.60" y2="360.70" stroke="#222" stroke-width="1.0"/>
<line x1="460.20" y1="337.30" x2="462.60" y2="342.10" stroke="#222" stroke-width="1.0"/>
<line x1="480.60" y1="348.50" x2="483.50" y2="353.40" stroke="#222" stroke-width="1.0"/>
<line x1="474.80" y1="348.80" x2="477.70" y2="353.40" stroke="#222" stroke-width="1.0"/>
<line x1="469.80" y1="365.20" x2="469.80" y2="371.90" stroke="#222" stroke-width="1.0"/>
<line x1="479.50" y1="365.20" x2="483.50" y2="371.90" stroke="#222" stroke-width="1.0"/>
<line x1="469.50" y1="384.00" x2="469.50" y2="391.00" stroke="#222" stroke-width="1.0"/>
<rect x="326.40" y="285.35" width="20.30" height="12.20" rx="1.8" fill="#fff" stroke="#222" stroke-width="1.3"/>
<text x="330.47" y="294.40" font-size="8.2" text-anchor="start" font-weight="normal" fill="#2a2a2a" textLength="12.17" lengthAdjust="spacingAndGlyphs" stroke="#2a2a2a" stroke-width="0.3">Lck</text>
<rect x="323.15" y="308.60" width="21.30" height="12.70" rx="1.8" fill="#fff" stroke="#222" stroke-width="1.3"/>
<text x="327.29" y="317.90" font-size="8.2" text-anchor="start" font-weight="normal" fill="#2a2a2a" textLength="13.02" lengthAdjust="spacingAndGlyphs" stroke="#2a2a2a" stroke-width="0.3">Fyn</text>
<rect x="343.40" y="332.35" width="23.30" height="12.70" rx="1.8" fill="#fff" stroke="#222" stroke-width="1.3"/>
<text x="348.14" y="341.65" font-size="8.2" text-anchor="start" font-weight="normal" fill="#2a2a2a" textLength="13.81" lengthAdjust="spacingAndGlyphs" stroke="#2a2a2a" stroke-width="0.3">BLK</text>
<rect x="372.65" y="334.35" width="19.30" height="12.70" rx="1.8" fill="#fff" stroke="#222" stroke-width="1.3"/>
<text x="376.51" y="343.65" font-size="8.2" text-anchor="start" font-weight="normal" fill="#2a2a2a" textLength="11.59" lengthAdjust="spacingAndGlyphs" stroke="#2a2a2a" stroke-width="0.3">Src</text>
<rect x="347.15" y="354.10" width="24.55" height="12.20" rx="1.8" fill="#fff" stroke="#222" stroke-width="1.3"/>
<text x="350.96" y="363.15" font-size="8.2" text-anchor="start" font-weight="normal" fill="#2a2a2a" textLength="16.93" lengthAdjust="spacingAndGlyphs" stroke="#2a2a2a" stroke-width="0.3">HCK</text>
<rect x="365.90" y="372.85" width="51.55" height="12.20" rx="1.8" fill="#fff" stroke="#222" stroke-width="1.3"/>
<text x="372.06" y="381.90" font-size="8.2" text-anchor="start" font-weight="normal" fill="#2a2a2a" textLength="39.22" lengthAdjust="spacingAndGlyphs" stroke="#2a2a2a" stroke-width="0.3">PKA[alpha]</text>
<rect x="391.40" y="353.10" width="30.30" height="12.70" rx="1.8" fill="#fff" stroke="#222" stroke-width="1.3"/>
<text x="396.45" y="362.40" font-size="8.2" text-anchor="start" font-weight="normal" fill="#2a2a2a" textLength="20.19" lengthAdjust="spacingAndGlyphs" stroke="#2a2a2a" stroke-width="0.3">SGK2</text>
<rect x="414.65" y="283.15" width="63.90" height="12.30" rx="1.8" fill="#fff" stroke="#222" stroke-width="1.3"/>
<text x="422.03" y="292.25" font-size="8.2" text-anchor="start" font-weight="normal" fill="#2a2a2a" textLength="49.13" lengthAdjust="spacingAndGlyphs" stroke="#2a2a2a" stroke-width="0.3">AMPK[alpha]1</text>
<rect x="444.95" y="307.35" width="54.70" height="13.00" rx="1.8" fill="#fff" stroke="#222" stroke-width="1.3"/>
<text x="450.95" y="316.80" font-size="8.2" text-anchor="start" font-weight="normal" fill="#2a2a2a" textLength="42.70" lengthAdjust="spacingAndGlyphs" stroke="#2a2a2a" stroke-width="0.3">IKK[epsilon]</text>
<rect x="434.05" y="326.25" width="26.40" height="11.80" rx="1.8" fill="#fff" stroke="#222" stroke-width="1.3"/>
<text x="438.93" y="335.10" font-size="8.2" text-anchor="start" font-weight="normal" fill="#2a2a2a" textLength="16.65" lengthAdjust="spacingAndGlyphs" stroke="#2a2a2a" stroke-width="0.3">FLT1</text>
<rect x="466.15" y="324.55" width="43.90" height="12.80" rx="1.8" fill="#fff" stroke="#222" stroke-width="1.3"/>
<text x="471.77" y="333.90" font-size="8.2" text-anchor="start" font-weight="normal" fill="#2a2a2a" textLength="32.67" lengthAdjust="spacingAndGlyphs" stroke="#2a2a2a" stroke-width="0.3">IKK[beta]</text>
<rect x="428.45" y="344.85" width="34.90" height="12.30" rx="1.8" fill="#fff" stroke="#222" stroke-width="1.3"/>
<text x="433.65" y="353.95" font-size="8.2" text-anchor="start" font-weight="normal" fill="#2a2a2a" textLength="24.49" lengthAdjust="spacingAndGlyphs" stroke="#2a2a2a" stroke-width="0.3">DAPK1</text>
<rect x="461.85" y="353.25" width="47.70" height="12.20" rx="1.8" fill="#fff" stroke="#222" stroke-width="1.3"/>
<text x="468.65" y="362.30" font-size="8.2" text-anchor="start" font-weight="normal" fill="#2a2a2a" textLength="34.09" lengthAdjust="spacingAndGlyphs" stroke="#2a2a2a" stroke-width="0.3">PFTAIRE1</text>
<rect x="423.90" y="372.35" width="29.80" height="12.20" rx="1.8" fill="#fff" stroke="#222" stroke-width="1.3"/>
<text x="429.32" y="381.40" font-size="8.2" text-anchor="start" font-weight="normal" fill="#2a2a2a" textLength="18.96" lengthAdjust="spacingAndGlyphs" stroke="#2a2a2a" stroke-width="0.3">ERK7</text>
<rect x="459.95" y="371.55" width="47.80" height="12.60" rx="1.8" fill="#fff" stroke="#222" stroke-width="1.3"/>
<text x="465.46" y="380.80" font-size="8.2" text-anchor="start" font-weight="normal" fill="#2a2a2a" textLength="36.77" lengthAdjust="spacingAndGlyphs" stroke="#2a2a2a" stroke-width="0.3">IKK[alpha]</text>
<rect x="459.95" y="390.85" width="20.60" height="12.40" rx="1.8" fill="#fff" stroke="#222" stroke-width="1.3"/>
<text x="463.75" y="400.00" font-size="8.2" text-anchor="start" font-weight="normal" fill="#2a2a2a" textLength="12.99" lengthAdjust="spacingAndGlyphs" stroke="#2a2a2a" stroke-width="0.3">ICK</text>
</svg></body></html>
